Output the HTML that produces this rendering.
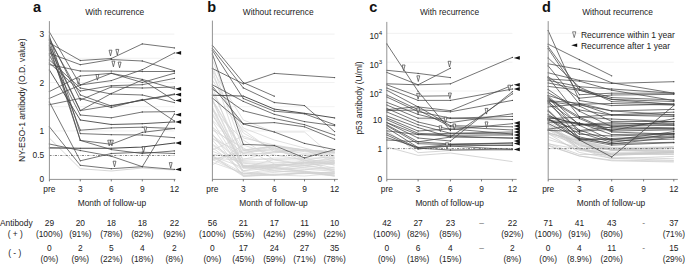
<!DOCTYPE html><html><head><meta charset="utf-8"><style>html,body{margin:0;padding:0;background:#fff;}svg{display:block;font-family:"Liberation Sans",sans-serif;}</style></head><body>
<svg width="685" height="265" viewBox="0 0 685 265">
<line x1="49.4" y1="130.90" x2="174.4" y2="130.90" stroke="#eeeeee" stroke-width="0.8"/>
<line x1="49.4" y1="106.70" x2="174.4" y2="106.70" stroke="#eeeeee" stroke-width="0.8"/>
<line x1="49.4" y1="82.50" x2="174.4" y2="82.50" stroke="#eeeeee" stroke-width="0.8"/>
<line x1="49.4" y1="58.30" x2="174.4" y2="58.30" stroke="#eeeeee" stroke-width="0.8"/>
<line x1="49.4" y1="34.10" x2="174.4" y2="34.10" stroke="#eeeeee" stroke-width="0.8"/>
<line x1="212.4" y1="130.90" x2="334.6" y2="130.90" stroke="#eeeeee" stroke-width="0.8"/>
<line x1="212.4" y1="106.70" x2="334.6" y2="106.70" stroke="#eeeeee" stroke-width="0.8"/>
<line x1="212.4" y1="82.50" x2="334.6" y2="82.50" stroke="#eeeeee" stroke-width="0.8"/>
<line x1="212.4" y1="58.30" x2="334.6" y2="58.30" stroke="#eeeeee" stroke-width="0.8"/>
<line x1="212.4" y1="34.10" x2="334.6" y2="34.10" stroke="#eeeeee" stroke-width="0.8"/>
<line x1="386.8" y1="119.80" x2="512.4" y2="119.80" stroke="#eeeeee" stroke-width="0.8"/>
<line x1="386.8" y1="91.00" x2="512.4" y2="91.00" stroke="#eeeeee" stroke-width="0.8"/>
<line x1="386.8" y1="62.20" x2="512.4" y2="62.20" stroke="#eeeeee" stroke-width="0.8"/>
<line x1="386.8" y1="33.40" x2="512.4" y2="33.40" stroke="#eeeeee" stroke-width="0.8"/>
<line x1="548.2" y1="119.80" x2="673.8" y2="119.80" stroke="#eeeeee" stroke-width="0.8"/>
<line x1="548.2" y1="91.00" x2="673.8" y2="91.00" stroke="#eeeeee" stroke-width="0.8"/>
<line x1="548.2" y1="62.20" x2="673.8" y2="62.20" stroke="#eeeeee" stroke-width="0.8"/>
<line x1="548.2" y1="33.40" x2="673.8" y2="33.40" stroke="#eeeeee" stroke-width="0.8"/>
<polyline points="49.4,138.1 80.3,168.7 111.3,171.0 142.3,168.0 174.4,170.0" fill="none" stroke="#c8c8c8" stroke-width="0.75" stroke-opacity="1" stroke-linejoin="round"/>
<polyline points="49.4,42.9 80.3,60.5 111.3,58.5 142.3,43.9 174.4,47.9" fill="none" stroke="#474747" stroke-width="0.75" stroke-opacity="1" stroke-linejoin="round"/>
<circle cx="49.4" cy="42.9" r="0.65" fill="#474747"/>
<circle cx="80.3" cy="60.5" r="0.65" fill="#474747"/>
<circle cx="111.3" cy="58.5" r="0.65" fill="#474747"/>
<circle cx="142.3" cy="43.9" r="0.65" fill="#474747"/>
<circle cx="174.4" cy="47.9" r="0.65" fill="#474747"/>
<polyline points="49.4,53.3 80.3,64.7 111.3,59.5 142.3,61.0 174.4,70.7" fill="none" stroke="#474747" stroke-width="0.75" stroke-opacity="1" stroke-linejoin="round"/>
<circle cx="49.4" cy="53.3" r="0.65" fill="#474747"/>
<circle cx="80.3" cy="64.7" r="0.65" fill="#474747"/>
<circle cx="111.3" cy="59.5" r="0.65" fill="#474747"/>
<circle cx="142.3" cy="61.0" r="0.65" fill="#474747"/>
<circle cx="174.4" cy="70.7" r="0.65" fill="#474747"/>
<polyline points="49.4,64.6 80.3,71.0 111.3,71.1 142.3,71.5 174.4,71.5" fill="none" stroke="#474747" stroke-width="0.75" stroke-opacity="1" stroke-linejoin="round"/>
<circle cx="49.4" cy="64.6" r="0.65" fill="#474747"/>
<circle cx="80.3" cy="71.0" r="0.65" fill="#474747"/>
<circle cx="111.3" cy="71.1" r="0.65" fill="#474747"/>
<circle cx="142.3" cy="71.5" r="0.65" fill="#474747"/>
<circle cx="174.4" cy="71.5" r="0.65" fill="#474747"/>
<polyline points="49.4,32.0 80.3,85.0 111.3,80.6 142.3,69.7 174.4,52.9" fill="none" stroke="#474747" stroke-width="0.75" stroke-opacity="1" stroke-linejoin="round"/>
<circle cx="49.4" cy="32.0" r="0.65" fill="#474747"/>
<circle cx="80.3" cy="85.0" r="0.65" fill="#474747"/>
<circle cx="111.3" cy="80.6" r="0.65" fill="#474747"/>
<circle cx="142.3" cy="69.7" r="0.65" fill="#474747"/>
<circle cx="174.4" cy="52.9" r="0.65" fill="#474747"/>
<polyline points="49.4,91.5 80.3,76.0 111.3,73.3 142.3,82.5 174.4,73.2" fill="none" stroke="#474747" stroke-width="0.75" stroke-opacity="1" stroke-linejoin="round"/>
<circle cx="49.4" cy="91.5" r="0.65" fill="#474747"/>
<circle cx="80.3" cy="76.0" r="0.65" fill="#474747"/>
<circle cx="111.3" cy="73.3" r="0.65" fill="#474747"/>
<circle cx="142.3" cy="82.5" r="0.65" fill="#474747"/>
<circle cx="174.4" cy="73.2" r="0.65" fill="#474747"/>
<polyline points="49.4,98.4 80.3,85.0 111.3,73.3 142.3,79.4 174.4,88.8" fill="none" stroke="#474747" stroke-width="0.75" stroke-opacity="1" stroke-linejoin="round"/>
<circle cx="49.4" cy="98.4" r="0.65" fill="#474747"/>
<circle cx="80.3" cy="85.0" r="0.65" fill="#474747"/>
<circle cx="111.3" cy="73.3" r="0.65" fill="#474747"/>
<circle cx="142.3" cy="79.4" r="0.65" fill="#474747"/>
<circle cx="174.4" cy="88.8" r="0.65" fill="#474747"/>
<polyline points="49.4,63.0 80.3,91.0 111.3,85.7 142.3,84.7 174.4,78.4" fill="none" stroke="#474747" stroke-width="0.75" stroke-opacity="1" stroke-linejoin="round"/>
<circle cx="49.4" cy="63.0" r="0.65" fill="#474747"/>
<circle cx="80.3" cy="91.0" r="0.65" fill="#474747"/>
<circle cx="111.3" cy="85.7" r="0.65" fill="#474747"/>
<circle cx="142.3" cy="84.7" r="0.65" fill="#474747"/>
<circle cx="174.4" cy="78.4" r="0.65" fill="#474747"/>
<polyline points="49.4,45.0 80.3,110.6 111.3,93.5 142.3,80.0 174.4,100.4" fill="none" stroke="#474747" stroke-width="0.75" stroke-opacity="1" stroke-linejoin="round"/>
<circle cx="49.4" cy="45.0" r="0.65" fill="#474747"/>
<circle cx="80.3" cy="110.6" r="0.65" fill="#474747"/>
<circle cx="111.3" cy="93.5" r="0.65" fill="#474747"/>
<circle cx="142.3" cy="80.0" r="0.65" fill="#474747"/>
<circle cx="174.4" cy="100.4" r="0.65" fill="#474747"/>
<polyline points="49.4,48.0 80.3,110.6 111.3,105.5 142.3,100.4 174.4,94.6" fill="none" stroke="#474747" stroke-width="0.75" stroke-opacity="1" stroke-linejoin="round"/>
<circle cx="49.4" cy="48.0" r="0.65" fill="#474747"/>
<circle cx="80.3" cy="110.6" r="0.65" fill="#474747"/>
<circle cx="111.3" cy="105.5" r="0.65" fill="#474747"/>
<circle cx="142.3" cy="100.4" r="0.65" fill="#474747"/>
<circle cx="174.4" cy="94.6" r="0.65" fill="#474747"/>
<polyline points="49.4,104.7 80.3,98.4 111.3,107.5 142.3,99.4 174.4,121.0" fill="none" stroke="#474747" stroke-width="0.75" stroke-opacity="1" stroke-linejoin="round"/>
<circle cx="49.4" cy="104.7" r="0.65" fill="#474747"/>
<circle cx="80.3" cy="98.4" r="0.65" fill="#474747"/>
<circle cx="111.3" cy="107.5" r="0.65" fill="#474747"/>
<circle cx="142.3" cy="99.4" r="0.65" fill="#474747"/>
<circle cx="174.4" cy="121.0" r="0.65" fill="#474747"/>
<polyline points="49.4,40.0 80.3,95.0 111.3,106.0 142.3,100.0 174.4,94.0" fill="none" stroke="#474747" stroke-width="0.75" stroke-opacity="1" stroke-linejoin="round"/>
<circle cx="49.4" cy="40.0" r="0.65" fill="#474747"/>
<circle cx="80.3" cy="95.0" r="0.65" fill="#474747"/>
<circle cx="111.3" cy="106.0" r="0.65" fill="#474747"/>
<circle cx="142.3" cy="100.0" r="0.65" fill="#474747"/>
<circle cx="174.4" cy="94.0" r="0.65" fill="#474747"/>
<polyline points="49.4,38.0 80.3,100.0 111.3,87.0 142.3,88.0 174.4,87.0" fill="none" stroke="#474747" stroke-width="0.75" stroke-opacity="1" stroke-linejoin="round"/>
<circle cx="49.4" cy="38.0" r="0.65" fill="#474747"/>
<circle cx="80.3" cy="100.0" r="0.65" fill="#474747"/>
<circle cx="111.3" cy="87.0" r="0.65" fill="#474747"/>
<circle cx="142.3" cy="88.0" r="0.65" fill="#474747"/>
<circle cx="174.4" cy="87.0" r="0.65" fill="#474747"/>
<polyline points="49.4,55.0 80.3,115.0 111.3,117.8 142.3,112.0 174.4,111.6" fill="none" stroke="#474747" stroke-width="0.75" stroke-opacity="1" stroke-linejoin="round"/>
<circle cx="49.4" cy="55.0" r="0.65" fill="#474747"/>
<circle cx="80.3" cy="115.0" r="0.65" fill="#474747"/>
<circle cx="111.3" cy="117.8" r="0.65" fill="#474747"/>
<circle cx="142.3" cy="112.0" r="0.65" fill="#474747"/>
<circle cx="174.4" cy="111.6" r="0.65" fill="#474747"/>
<polyline points="49.4,60.0 80.3,88.0 111.3,94.0 142.3,95.0 174.4,102.6" fill="none" stroke="#474747" stroke-width="0.75" stroke-opacity="1" stroke-linejoin="round"/>
<circle cx="49.4" cy="60.0" r="0.65" fill="#474747"/>
<circle cx="80.3" cy="88.0" r="0.65" fill="#474747"/>
<circle cx="111.3" cy="94.0" r="0.65" fill="#474747"/>
<circle cx="142.3" cy="95.0" r="0.65" fill="#474747"/>
<circle cx="174.4" cy="102.6" r="0.65" fill="#474747"/>
<polyline points="49.4,70.0 80.3,120.0 111.3,124.5 142.3,123.7 174.4,121.9" fill="none" stroke="#474747" stroke-width="0.9" stroke-opacity="1" stroke-linejoin="round"/>
<circle cx="49.4" cy="70.0" r="0.65" fill="#474747"/>
<circle cx="80.3" cy="120.0" r="0.65" fill="#474747"/>
<circle cx="111.3" cy="124.5" r="0.65" fill="#474747"/>
<circle cx="142.3" cy="123.7" r="0.65" fill="#474747"/>
<circle cx="174.4" cy="121.9" r="0.65" fill="#474747"/>
<polyline points="49.4,50.0 80.3,130.2 111.3,127.9 142.3,127.2 174.4,128.5" fill="none" stroke="#474747" stroke-width="0.75" stroke-opacity="1" stroke-linejoin="round"/>
<circle cx="49.4" cy="50.0" r="0.65" fill="#474747"/>
<circle cx="80.3" cy="130.2" r="0.65" fill="#474747"/>
<circle cx="111.3" cy="127.9" r="0.65" fill="#474747"/>
<circle cx="142.3" cy="127.2" r="0.65" fill="#474747"/>
<circle cx="174.4" cy="128.5" r="0.65" fill="#474747"/>
<polyline points="49.4,36.0 80.3,133.6 111.3,134.7 142.3,135.0 174.4,137.7" fill="none" stroke="#474747" stroke-width="0.75" stroke-opacity="1" stroke-linejoin="round"/>
<circle cx="49.4" cy="36.0" r="0.65" fill="#474747"/>
<circle cx="80.3" cy="133.6" r="0.65" fill="#474747"/>
<circle cx="111.3" cy="134.7" r="0.65" fill="#474747"/>
<circle cx="142.3" cy="135.0" r="0.65" fill="#474747"/>
<circle cx="174.4" cy="137.7" r="0.65" fill="#474747"/>
<polyline points="49.4,40.0 80.3,140.4 111.3,144.3 142.3,132.4 174.4,128.5" fill="none" stroke="#474747" stroke-width="0.75" stroke-opacity="1" stroke-linejoin="round"/>
<circle cx="49.4" cy="40.0" r="0.65" fill="#474747"/>
<circle cx="80.3" cy="140.4" r="0.65" fill="#474747"/>
<circle cx="111.3" cy="144.3" r="0.65" fill="#474747"/>
<circle cx="142.3" cy="132.4" r="0.65" fill="#474747"/>
<circle cx="174.4" cy="128.5" r="0.65" fill="#474747"/>
<polyline points="49.4,46.0 80.3,140.4 111.3,149.6 142.3,153.5 174.4,150.9" fill="none" stroke="#474747" stroke-width="0.75" stroke-opacity="1" stroke-linejoin="round"/>
<circle cx="49.4" cy="46.0" r="0.65" fill="#474747"/>
<circle cx="80.3" cy="140.4" r="0.65" fill="#474747"/>
<circle cx="111.3" cy="149.6" r="0.65" fill="#474747"/>
<circle cx="142.3" cy="153.5" r="0.65" fill="#474747"/>
<circle cx="174.4" cy="150.9" r="0.65" fill="#474747"/>
<polyline points="49.4,147.9 80.3,148.3 111.3,148.3 142.3,147.0 174.4,143.0" fill="none" stroke="#474747" stroke-width="1.1" stroke-opacity="1" stroke-linejoin="round"/>
<circle cx="49.4" cy="147.9" r="0.65" fill="#474747"/>
<circle cx="80.3" cy="148.3" r="0.65" fill="#474747"/>
<circle cx="111.3" cy="148.3" r="0.65" fill="#474747"/>
<circle cx="142.3" cy="147.0" r="0.65" fill="#474747"/>
<circle cx="174.4" cy="143.0" r="0.65" fill="#474747"/>
<polyline points="49.4,144.0 80.3,150.5 111.3,156.2 142.3,166.7 174.4,114.0" fill="none" stroke="#474747" stroke-width="0.75" stroke-opacity="1" stroke-linejoin="round"/>
<circle cx="49.4" cy="144.0" r="0.65" fill="#474747"/>
<circle cx="80.3" cy="150.5" r="0.65" fill="#474747"/>
<circle cx="111.3" cy="156.2" r="0.65" fill="#474747"/>
<circle cx="142.3" cy="166.7" r="0.65" fill="#474747"/>
<circle cx="174.4" cy="114.0" r="0.65" fill="#474747"/>
<polyline points="49.4,126.8 80.3,165.3 111.3,168.7 142.3,166.7 174.4,169.4" fill="none" stroke="#474747" stroke-width="0.75" stroke-opacity="1" stroke-linejoin="round"/>
<circle cx="49.4" cy="126.8" r="0.65" fill="#474747"/>
<circle cx="80.3" cy="165.3" r="0.65" fill="#474747"/>
<circle cx="111.3" cy="168.7" r="0.65" fill="#474747"/>
<circle cx="142.3" cy="166.7" r="0.65" fill="#474747"/>
<circle cx="174.4" cy="169.4" r="0.65" fill="#474747"/>
<polyline points="49.4,102.0 80.3,160.8 111.3,153.5 142.3,152.2 174.4,153.5" fill="none" stroke="#474747" stroke-width="0.75" stroke-opacity="1" stroke-linejoin="round"/>
<circle cx="49.4" cy="102.0" r="0.65" fill="#474747"/>
<circle cx="80.3" cy="160.8" r="0.65" fill="#474747"/>
<circle cx="111.3" cy="153.5" r="0.65" fill="#474747"/>
<circle cx="142.3" cy="152.2" r="0.65" fill="#474747"/>
<circle cx="174.4" cy="153.5" r="0.65" fill="#474747"/>
<path d="M109.05,50.20 L111.95,50.20 L110.50,55.90 Z" fill="#fff" stroke="#333" stroke-width="0.65"/>
<path d="M115.85,49.40 L118.75,49.40 L117.30,55.10 Z" fill="#fff" stroke="#333" stroke-width="0.65"/>
<path d="M111.95,61.10 L114.85,61.10 L113.40,66.80 Z" fill="#fff" stroke="#333" stroke-width="0.65"/>
<path d="M118.15,62.10 L121.05,62.10 L119.60,67.80 Z" fill="#fff" stroke="#333" stroke-width="0.65"/>
<path d="M107.75,140.20 L110.65,140.20 L109.20,145.90 Z" fill="#fff" stroke="#333" stroke-width="0.65"/>
<path d="M110.45,140.20 L113.35,140.20 L111.90,145.90 Z" fill="#fff" stroke="#333" stroke-width="0.65"/>
<path d="M113.05,161.20 L115.95,161.20 L114.50,166.90 Z" fill="#fff" stroke="#333" stroke-width="0.65"/>
<path d="M95.95,74.50 L98.85,74.50 L97.40,80.20 Z" fill="#fff" stroke="#333" stroke-width="0.65"/>
<path d="M76.75,78.80 L79.65,78.80 L78.20,84.50 Z" fill="#fff" stroke="#333" stroke-width="0.65"/>
<path d="M143.95,127.00 L146.85,127.00 L145.40,132.70 Z" fill="#fff" stroke="#333" stroke-width="0.65"/>
<path d="M142.05,146.80 L144.95,146.80 L143.50,152.50 Z" fill="#fff" stroke="#333" stroke-width="0.65"/>
<path d="M169.25,162.60 L172.15,162.60 L170.70,168.30 Z" fill="#fff" stroke="#333" stroke-width="0.65"/>
<path d="M175.1,52.9 L181.1,51.0 L181.1,54.8 Z" fill="#111"/>
<path d="M175.1,88.8 L181.1,86.9 L181.1,90.7 Z" fill="#111"/>
<path d="M175.1,94.6 L181.1,92.7 L181.1,96.5 Z" fill="#111"/>
<path d="M175.1,100.4 L181.1,98.5 L181.1,102.3 Z" fill="#111"/>
<path d="M175.1,114.7 L181.1,112.8 L181.1,116.6 Z" fill="#111"/>
<path d="M175.1,121.9 L181.1,120.0 L181.1,123.8 Z" fill="#111"/>
<path d="M175.1,143.0 L181.1,141.1 L181.1,144.9 Z" fill="#111"/>
<path d="M175.1,169.4 L181.1,167.5 L181.1,171.3 Z" fill="#111"/>
<polyline points="212.4,137.3 243.3,165.4 274.3,170.2 304.5,167.5 334.6,163.4" fill="none" stroke="#d2d2d2" stroke-width="0.7" stroke-opacity="1" stroke-linejoin="round"/>
<polyline points="212.4,108.0 243.3,166.7 274.3,166.9 304.5,162.6 334.6,163.4" fill="none" stroke="#d2d2d2" stroke-width="0.7" stroke-opacity="1" stroke-linejoin="round"/>
<polyline points="212.4,138.9 243.3,153.1 274.3,149.4 304.5,153.4 334.6,152.0" fill="none" stroke="#d2d2d2" stroke-width="0.7" stroke-opacity="1" stroke-linejoin="round"/>
<polyline points="212.4,87.0 243.3,166.4 274.3,165.4 304.5,166.2 334.6,169.0" fill="none" stroke="#d2d2d2" stroke-width="0.7" stroke-opacity="1" stroke-linejoin="round"/>
<polyline points="212.4,159.3 243.3,152.2 274.3,148.4 304.5,150.0 334.6,152.0" fill="none" stroke="#d2d2d2" stroke-width="0.7" stroke-opacity="1" stroke-linejoin="round"/>
<polyline points="212.4,99.8 243.3,154.0 274.3,152.9 304.5,150.0 334.6,152.0" fill="none" stroke="#d2d2d2" stroke-width="0.7" stroke-opacity="1" stroke-linejoin="round"/>
<polyline points="212.4,151.3 243.3,163.2 274.3,166.3 304.5,162.1 334.6,158.0" fill="none" stroke="#d2d2d2" stroke-width="0.7" stroke-opacity="1" stroke-linejoin="round"/>
<polyline points="212.4,133.9 243.3,176.3 274.3,175.0 304.5,173.1 334.6,172.0" fill="none" stroke="#d2d2d2" stroke-width="0.7" stroke-opacity="1" stroke-linejoin="round"/>
<polyline points="212.4,91.8 243.3,155.8 274.3,151.8 304.5,154.9 334.6,153.9" fill="none" stroke="#d2d2d2" stroke-width="0.7" stroke-opacity="1" stroke-linejoin="round"/>
<polyline points="212.4,127.2 243.3,171.7 274.3,175.0 304.5,173.1 334.6,172.2" fill="none" stroke="#d2d2d2" stroke-width="0.7" stroke-opacity="1" stroke-linejoin="round"/>
<polyline points="212.4,156.3 243.3,167.5 274.3,159.6 304.5,163.8 334.6,160.6" fill="none" stroke="#d2d2d2" stroke-width="0.7" stroke-opacity="1" stroke-linejoin="round"/>
<polyline points="212.4,100.9 243.3,168.3 274.3,167.5 304.5,169.3 334.6,171.1" fill="none" stroke="#d2d2d2" stroke-width="0.7" stroke-opacity="1" stroke-linejoin="round"/>
<polyline points="212.4,158.1 243.3,160.5 274.3,158.1 304.5,158.4 334.6,157.4" fill="none" stroke="#d2d2d2" stroke-width="0.7" stroke-opacity="1" stroke-linejoin="round"/>
<polyline points="212.4,65.5 243.3,150.0 274.3,146.0 304.5,150.0 334.6,152.0" fill="none" stroke="#d2d2d2" stroke-width="0.7" stroke-opacity="1" stroke-linejoin="round"/>
<polyline points="212.4,134.9 243.3,166.0 274.3,164.6 304.5,160.9 334.6,160.7" fill="none" stroke="#d2d2d2" stroke-width="0.7" stroke-opacity="1" stroke-linejoin="round"/>
<polyline points="212.4,115.3 243.3,162.7 274.3,164.4 304.5,165.1 334.6,162.1" fill="none" stroke="#d2d2d2" stroke-width="0.7" stroke-opacity="1" stroke-linejoin="round"/>
<polyline points="212.4,139.9 243.3,175.9 274.3,175.0 304.5,176.0 334.6,173.6" fill="none" stroke="#d2d2d2" stroke-width="0.7" stroke-opacity="1" stroke-linejoin="round"/>
<polyline points="212.4,145.2 243.3,166.9 274.3,167.5 304.5,171.1 334.6,173.7" fill="none" stroke="#d2d2d2" stroke-width="0.7" stroke-opacity="1" stroke-linejoin="round"/>
<polyline points="212.4,154.2 243.3,159.4 274.3,151.8 304.5,150.0 334.6,152.0" fill="none" stroke="#d2d2d2" stroke-width="0.7" stroke-opacity="1" stroke-linejoin="round"/>
<polyline points="212.4,157.2 243.3,175.3 274.3,172.4 304.5,169.8 334.6,167.1" fill="none" stroke="#d2d2d2" stroke-width="0.7" stroke-opacity="1" stroke-linejoin="round"/>
<polyline points="212.4,159.5 243.3,174.1 274.3,170.9 304.5,173.0 334.6,176.0" fill="none" stroke="#d2d2d2" stroke-width="0.7" stroke-opacity="1" stroke-linejoin="round"/>
<polyline points="212.4,121.0 243.3,170.9 274.3,167.6 304.5,171.4 334.6,176.0" fill="none" stroke="#d2d2d2" stroke-width="0.7" stroke-opacity="1" stroke-linejoin="round"/>
<polyline points="212.4,120.1 243.3,150.7 274.3,151.0 304.5,151.1 334.6,152.7" fill="none" stroke="#d2d2d2" stroke-width="0.7" stroke-opacity="1" stroke-linejoin="round"/>
<polyline points="212.4,127.0 243.3,153.5 274.3,146.0 304.5,151.7 334.6,153.2" fill="none" stroke="#d2d2d2" stroke-width="0.7" stroke-opacity="1" stroke-linejoin="round"/>
<polyline points="212.4,160.0 243.3,150.7 274.3,146.0 304.5,150.0 334.6,152.6" fill="none" stroke="#d2d2d2" stroke-width="0.7" stroke-opacity="1" stroke-linejoin="round"/>
<polyline points="212.4,113.3 243.3,167.6 274.3,171.0 304.5,171.7 334.6,174.9" fill="none" stroke="#d2d2d2" stroke-width="0.7" stroke-opacity="1" stroke-linejoin="round"/>
<polyline points="212.4,99.8 243.3,166.1 274.3,169.0 304.5,165.6 334.6,162.1" fill="none" stroke="#d2d2d2" stroke-width="0.7" stroke-opacity="1" stroke-linejoin="round"/>
<polyline points="212.4,147.5 243.3,170.8 274.3,164.3 304.5,165.4 334.6,162.9" fill="none" stroke="#d2d2d2" stroke-width="0.7" stroke-opacity="1" stroke-linejoin="round"/>
<polyline points="212.4,70.2 243.3,161.7 274.3,162.3 304.5,162.9 334.6,163.0" fill="none" stroke="#d2d2d2" stroke-width="0.7" stroke-opacity="1" stroke-linejoin="round"/>
<polyline points="212.4,162.4 243.3,173.2 274.3,175.0 304.5,172.9 334.6,173.5" fill="none" stroke="#d2d2d2" stroke-width="0.7" stroke-opacity="1" stroke-linejoin="round"/>
<polyline points="212.4,106.9 243.3,167.8 274.3,165.8 304.5,163.1 334.6,161.1" fill="none" stroke="#d2d2d2" stroke-width="0.7" stroke-opacity="1" stroke-linejoin="round"/>
<polyline points="212.4,156.1 243.3,173.4 274.3,175.0 304.5,172.4 334.6,176.0" fill="none" stroke="#d2d2d2" stroke-width="0.7" stroke-opacity="1" stroke-linejoin="round"/>
<polyline points="212.4,155.8 243.3,176.3 274.3,174.0 304.5,173.6 334.6,172.2" fill="none" stroke="#d2d2d2" stroke-width="0.7" stroke-opacity="1" stroke-linejoin="round"/>
<polyline points="212.4,135.2 243.3,158.8 274.3,159.5 304.5,160.2 334.6,155.8" fill="none" stroke="#d2d2d2" stroke-width="0.7" stroke-opacity="1" stroke-linejoin="round"/>
<polyline points="212.4,109.2 243.3,174.0 274.3,168.5 304.5,171.9 334.6,175.1" fill="none" stroke="#d2d2d2" stroke-width="0.7" stroke-opacity="1" stroke-linejoin="round"/>
<polyline points="212.4,144.1 243.3,165.1 274.3,166.9 304.5,162.9 334.6,158.5" fill="none" stroke="#d2d2d2" stroke-width="0.7" stroke-opacity="1" stroke-linejoin="round"/>
<polyline points="212.4,75.0 243.3,133.0 274.3,150.0 304.5,158.0 334.6,165.0" fill="none" stroke="#d2d2d2" stroke-width="0.7" stroke-opacity="1" stroke-linejoin="round"/>
<polyline points="212.4,110.0 243.3,140.0 274.3,160.0 304.5,165.0 334.6,170.0" fill="none" stroke="#d2d2d2" stroke-width="0.7" stroke-opacity="1" stroke-linejoin="round"/>
<polyline points="212.4,150.0 243.3,136.0 274.3,148.0 304.5,162.0 334.6,168.0" fill="none" stroke="#d2d2d2" stroke-width="0.7" stroke-opacity="1" stroke-linejoin="round"/>
<polyline points="212.4,165.0 243.3,145.0 274.3,155.0 304.5,160.0 334.6,172.0" fill="none" stroke="#d2d2d2" stroke-width="0.7" stroke-opacity="1" stroke-linejoin="round"/>
<polyline points="212.4,95.0 243.3,130.0 274.3,152.0 304.5,150.0 334.6,162.0" fill="none" stroke="#d2d2d2" stroke-width="0.7" stroke-opacity="1" stroke-linejoin="round"/>
<polyline points="212.4,130.0 243.3,148.0 274.3,164.0 304.5,168.0 334.6,170.0" fill="none" stroke="#d2d2d2" stroke-width="0.7" stroke-opacity="1" stroke-linejoin="round"/>
<polyline points="212.4,70.0 243.3,120.0 274.3,132.0 304.5,132.0 334.6,158.0" fill="none" stroke="#d2d2d2" stroke-width="0.7" stroke-opacity="1" stroke-linejoin="round"/>
<polyline points="212.4,60.0 243.3,138.0 274.3,145.0 304.5,150.0 334.6,160.0" fill="none" stroke="#d2d2d2" stroke-width="0.7" stroke-opacity="1" stroke-linejoin="round"/>
<polyline points="212.4,100.0 243.3,150.0 274.3,147.0 304.5,160.0 334.6,165.0" fill="none" stroke="#d2d2d2" stroke-width="0.7" stroke-opacity="1" stroke-linejoin="round"/>
<polyline points="212.4,80.0 243.3,128.0 274.3,140.0 304.5,148.0 334.6,156.0" fill="none" stroke="#d2d2d2" stroke-width="0.7" stroke-opacity="1" stroke-linejoin="round"/>
<polyline points="212.4,68.5 243.3,83.8 274.3,73.4 334.6,77.6" fill="none" stroke="#474747" stroke-width="0.75" stroke-opacity="1" stroke-linejoin="round"/>
<circle cx="212.4" cy="68.5" r="0.65" fill="#474747"/>
<circle cx="243.3" cy="83.8" r="0.65" fill="#474747"/>
<circle cx="274.3" cy="73.4" r="0.65" fill="#474747"/>
<circle cx="334.6" cy="77.6" r="0.65" fill="#474747"/>
<polyline points="212.4,45.3 243.3,82.6 274.3,96.2" fill="none" stroke="#474747" stroke-width="0.75" stroke-opacity="1" stroke-linejoin="round"/>
<circle cx="212.4" cy="45.3" r="0.65" fill="#474747"/>
<circle cx="243.3" cy="82.6" r="0.65" fill="#474747"/>
<circle cx="274.3" cy="96.2" r="0.65" fill="#474747"/>
<polyline points="212.4,48.4 243.3,87.9 274.3,102.5 304.5,105.6 334.6,131.6" fill="none" stroke="#474747" stroke-width="0.75" stroke-opacity="1" stroke-linejoin="round"/>
<circle cx="212.4" cy="48.4" r="0.65" fill="#474747"/>
<circle cx="243.3" cy="87.9" r="0.65" fill="#474747"/>
<circle cx="274.3" cy="102.5" r="0.65" fill="#474747"/>
<circle cx="304.5" cy="105.6" r="0.65" fill="#474747"/>
<circle cx="334.6" cy="131.6" r="0.65" fill="#474747"/>
<polyline points="212.4,95.2 243.3,96.1 274.3,109.1 304.5,113.3 334.6,117.9" fill="none" stroke="#474747" stroke-width="0.95" stroke-opacity="1" stroke-linejoin="round"/>
<circle cx="212.4" cy="95.2" r="0.65" fill="#474747"/>
<circle cx="243.3" cy="96.1" r="0.65" fill="#474747"/>
<circle cx="274.3" cy="109.1" r="0.65" fill="#474747"/>
<circle cx="304.5" cy="113.3" r="0.65" fill="#474747"/>
<circle cx="334.6" cy="117.9" r="0.65" fill="#474747"/>
<polyline points="212.4,50.4 243.3,98.5 274.3,111.2 304.5,113.8 334.6,124.7" fill="none" stroke="#474747" stroke-width="0.75" stroke-opacity="1" stroke-linejoin="round"/>
<circle cx="212.4" cy="50.4" r="0.65" fill="#474747"/>
<circle cx="243.3" cy="98.5" r="0.65" fill="#474747"/>
<circle cx="274.3" cy="111.2" r="0.65" fill="#474747"/>
<circle cx="304.5" cy="113.8" r="0.65" fill="#474747"/>
<circle cx="334.6" cy="124.7" r="0.65" fill="#474747"/>
<polyline points="212.4,84.8 243.3,101.4 274.3,114.3 304.5,121.6 334.6,125.7" fill="none" stroke="#474747" stroke-width="0.75" stroke-opacity="1" stroke-linejoin="round"/>
<circle cx="212.4" cy="84.8" r="0.65" fill="#474747"/>
<circle cx="243.3" cy="101.4" r="0.65" fill="#474747"/>
<circle cx="274.3" cy="114.3" r="0.65" fill="#474747"/>
<circle cx="304.5" cy="121.6" r="0.65" fill="#474747"/>
<circle cx="334.6" cy="125.7" r="0.65" fill="#474747"/>
<polyline points="212.4,89.0 243.3,110.8 274.3,118.5 304.5,124.7 334.6,135.1" fill="none" stroke="#474747" stroke-width="0.75" stroke-opacity="1" stroke-linejoin="round"/>
<circle cx="212.4" cy="89.0" r="0.65" fill="#474747"/>
<circle cx="243.3" cy="110.8" r="0.65" fill="#474747"/>
<circle cx="274.3" cy="118.5" r="0.65" fill="#474747"/>
<circle cx="304.5" cy="124.7" r="0.65" fill="#474747"/>
<circle cx="334.6" cy="135.1" r="0.65" fill="#474747"/>
<polyline points="212.4,86.3 243.3,123.7 274.3,122.6 304.5,126.8 334.6,139.2" fill="none" stroke="#474747" stroke-width="0.75" stroke-opacity="1" stroke-linejoin="round"/>
<circle cx="212.4" cy="86.3" r="0.65" fill="#474747"/>
<circle cx="243.3" cy="123.7" r="0.65" fill="#474747"/>
<circle cx="274.3" cy="122.6" r="0.65" fill="#474747"/>
<circle cx="304.5" cy="126.8" r="0.65" fill="#474747"/>
<circle cx="334.6" cy="139.2" r="0.65" fill="#474747"/>
<polyline points="212.4,98.0 243.3,124.0 274.3,132.0 304.5,143.4 334.6,149.6" fill="none" stroke="#474747" stroke-width="0.75" stroke-opacity="1" stroke-linejoin="round"/>
<circle cx="212.4" cy="98.0" r="0.65" fill="#474747"/>
<circle cx="243.3" cy="124.0" r="0.65" fill="#474747"/>
<circle cx="274.3" cy="132.0" r="0.65" fill="#474747"/>
<circle cx="304.5" cy="143.4" r="0.65" fill="#474747"/>
<circle cx="334.6" cy="149.6" r="0.65" fill="#474747"/>
<polyline points="212.4,54.0 243.3,144.4 274.3,145.5 304.5,157.9 334.6,149.6" fill="none" stroke="#474747" stroke-width="0.75" stroke-opacity="1" stroke-linejoin="round"/>
<circle cx="212.4" cy="54.0" r="0.65" fill="#474747"/>
<circle cx="243.3" cy="144.4" r="0.65" fill="#474747"/>
<circle cx="274.3" cy="145.5" r="0.65" fill="#474747"/>
<circle cx="304.5" cy="157.9" r="0.65" fill="#474747"/>
<circle cx="334.6" cy="149.6" r="0.65" fill="#474747"/>
<polyline points="386.8,130.8 418.1,152.7 450.4,150.5 512.4,150.5" fill="none" stroke="#c8c8c8" stroke-width="0.75" stroke-opacity="1" stroke-linejoin="round"/>
<polyline points="386.8,147.0 418.1,155.4 450.4,153.0 512.4,161.6" fill="none" stroke="#c8c8c8" stroke-width="0.75" stroke-opacity="1" stroke-linejoin="round"/>
<polyline points="386.8,43.9 418.1,91.3 450.4,130.5" fill="none" stroke="#474747" stroke-width="0.75" stroke-opacity="1" stroke-linejoin="round"/>
<circle cx="386.8" cy="43.9" r="0.65" fill="#474747"/>
<circle cx="418.1" cy="91.3" r="0.65" fill="#474747"/>
<circle cx="450.4" cy="130.5" r="0.65" fill="#474747"/>
<polyline points="386.8,70.3 418.1,73.4 450.4,77.6" fill="none" stroke="#474747" stroke-width="0.75" stroke-opacity="1" stroke-linejoin="round"/>
<circle cx="386.8" cy="70.3" r="0.65" fill="#474747"/>
<circle cx="418.1" cy="73.4" r="0.65" fill="#474747"/>
<circle cx="450.4" cy="77.6" r="0.65" fill="#474747"/>
<polyline points="386.8,72.4 418.1,84.8 450.4,68.2" fill="none" stroke="#474747" stroke-width="0.75" stroke-opacity="1" stroke-linejoin="round"/>
<circle cx="386.8" cy="72.4" r="0.65" fill="#474747"/>
<circle cx="418.1" cy="84.8" r="0.65" fill="#474747"/>
<circle cx="450.4" cy="68.2" r="0.65" fill="#474747"/>
<polyline points="386.8,83.8 418.1,84.8 450.4,83.8 512.4,57.4" fill="none" stroke="#474747" stroke-width="0.75" stroke-opacity="1" stroke-linejoin="round"/>
<circle cx="386.8" cy="83.8" r="0.65" fill="#474747"/>
<circle cx="418.1" cy="84.8" r="0.65" fill="#474747"/>
<circle cx="450.4" cy="83.8" r="0.65" fill="#474747"/>
<circle cx="512.4" cy="57.4" r="0.65" fill="#474747"/>
<polyline points="386.8,84.8 418.1,96.2 450.4,95.8" fill="none" stroke="#474747" stroke-width="0.75" stroke-opacity="1" stroke-linejoin="round"/>
<circle cx="386.8" cy="84.8" r="0.65" fill="#474747"/>
<circle cx="418.1" cy="96.2" r="0.65" fill="#474747"/>
<circle cx="450.4" cy="95.8" r="0.65" fill="#474747"/>
<polyline points="386.8,88.0 418.1,100.4 450.4,100.4 512.4,89.0" fill="none" stroke="#474747" stroke-width="0.75" stroke-opacity="1" stroke-linejoin="round"/>
<circle cx="386.8" cy="88.0" r="0.65" fill="#474747"/>
<circle cx="418.1" cy="100.4" r="0.65" fill="#474747"/>
<circle cx="450.4" cy="100.4" r="0.65" fill="#474747"/>
<circle cx="512.4" cy="89.0" r="0.65" fill="#474747"/>
<polyline points="386.8,90.3 418.1,106.9 450.4,110.7 512.4,85.2" fill="none" stroke="#474747" stroke-width="0.75" stroke-opacity="1" stroke-linejoin="round"/>
<circle cx="386.8" cy="90.3" r="0.65" fill="#474747"/>
<circle cx="418.1" cy="106.9" r="0.65" fill="#474747"/>
<circle cx="450.4" cy="110.7" r="0.65" fill="#474747"/>
<circle cx="512.4" cy="85.2" r="0.65" fill="#474747"/>
<polyline points="386.8,95.0 418.1,109.7 450.4,111.8 512.4,100.4" fill="none" stroke="#474747" stroke-width="0.75" stroke-opacity="1" stroke-linejoin="round"/>
<circle cx="386.8" cy="95.0" r="0.65" fill="#474747"/>
<circle cx="418.1" cy="109.7" r="0.65" fill="#474747"/>
<circle cx="450.4" cy="111.8" r="0.65" fill="#474747"/>
<circle cx="512.4" cy="100.4" r="0.65" fill="#474747"/>
<polyline points="386.8,97.0 418.1,111.6 450.4,118.2 512.4,116.4" fill="none" stroke="#474747" stroke-width="0.75" stroke-opacity="1" stroke-linejoin="round"/>
<circle cx="386.8" cy="97.0" r="0.65" fill="#474747"/>
<circle cx="418.1" cy="111.6" r="0.65" fill="#474747"/>
<circle cx="450.4" cy="118.2" r="0.65" fill="#474747"/>
<circle cx="512.4" cy="116.4" r="0.65" fill="#474747"/>
<polyline points="386.8,102.3 418.1,114.4 450.4,122.6 512.4,113.8" fill="none" stroke="#474747" stroke-width="0.75" stroke-opacity="1" stroke-linejoin="round"/>
<circle cx="386.8" cy="102.3" r="0.65" fill="#474747"/>
<circle cx="418.1" cy="114.4" r="0.65" fill="#474747"/>
<circle cx="450.4" cy="122.6" r="0.65" fill="#474747"/>
<circle cx="512.4" cy="113.8" r="0.65" fill="#474747"/>
<polyline points="386.8,105.0 418.1,118.2 450.4,118.2 512.4,119.5" fill="none" stroke="#474747" stroke-width="0.75" stroke-opacity="1" stroke-linejoin="round"/>
<circle cx="386.8" cy="105.0" r="0.65" fill="#474747"/>
<circle cx="418.1" cy="118.2" r="0.65" fill="#474747"/>
<circle cx="450.4" cy="118.2" r="0.65" fill="#474747"/>
<circle cx="512.4" cy="119.5" r="0.65" fill="#474747"/>
<polyline points="386.8,108.4 418.1,122.0 450.4,129.5 512.4,123.7" fill="none" stroke="#474747" stroke-width="0.75" stroke-opacity="1" stroke-linejoin="round"/>
<circle cx="386.8" cy="108.4" r="0.65" fill="#474747"/>
<circle cx="418.1" cy="122.0" r="0.65" fill="#474747"/>
<circle cx="450.4" cy="129.5" r="0.65" fill="#474747"/>
<circle cx="512.4" cy="123.7" r="0.65" fill="#474747"/>
<polyline points="386.8,109.7 418.1,106.6 450.4,125.7 512.4,126.8" fill="none" stroke="#474747" stroke-width="0.75" stroke-opacity="1" stroke-linejoin="round"/>
<circle cx="386.8" cy="109.7" r="0.65" fill="#474747"/>
<circle cx="418.1" cy="106.6" r="0.65" fill="#474747"/>
<circle cx="450.4" cy="125.7" r="0.65" fill="#474747"/>
<circle cx="512.4" cy="126.8" r="0.65" fill="#474747"/>
<polyline points="386.8,110.6 418.1,110.0 450.4,126.7 512.4,130.0" fill="none" stroke="#474747" stroke-width="0.75" stroke-opacity="1" stroke-linejoin="round"/>
<circle cx="386.8" cy="110.6" r="0.65" fill="#474747"/>
<circle cx="418.1" cy="110.0" r="0.65" fill="#474747"/>
<circle cx="450.4" cy="126.7" r="0.65" fill="#474747"/>
<circle cx="512.4" cy="130.0" r="0.65" fill="#474747"/>
<polyline points="386.8,112.0 418.1,124.8 450.4,133.3 512.4,132.0" fill="none" stroke="#474747" stroke-width="0.75" stroke-opacity="1" stroke-linejoin="round"/>
<circle cx="386.8" cy="112.0" r="0.65" fill="#474747"/>
<circle cx="418.1" cy="124.8" r="0.65" fill="#474747"/>
<circle cx="450.4" cy="133.3" r="0.65" fill="#474747"/>
<circle cx="512.4" cy="132.0" r="0.65" fill="#474747"/>
<polyline points="386.8,115.9 418.1,127.6 450.4,137.1 512.4,93.8" fill="none" stroke="#474747" stroke-width="0.75" stroke-opacity="1" stroke-linejoin="round"/>
<circle cx="386.8" cy="115.9" r="0.65" fill="#474747"/>
<circle cx="418.1" cy="127.6" r="0.65" fill="#474747"/>
<circle cx="450.4" cy="137.1" r="0.65" fill="#474747"/>
<circle cx="512.4" cy="93.8" r="0.65" fill="#474747"/>
<polyline points="386.8,118.0 418.1,131.0 450.4,128.9 512.4,134.0" fill="none" stroke="#474747" stroke-width="0.75" stroke-opacity="1" stroke-linejoin="round"/>
<circle cx="386.8" cy="118.0" r="0.65" fill="#474747"/>
<circle cx="418.1" cy="131.0" r="0.65" fill="#474747"/>
<circle cx="450.4" cy="128.9" r="0.65" fill="#474747"/>
<circle cx="512.4" cy="134.0" r="0.65" fill="#474747"/>
<polyline points="386.8,119.7 418.1,133.3 450.4,135.2 512.4,135.0" fill="none" stroke="#474747" stroke-width="0.75" stroke-opacity="1" stroke-linejoin="round"/>
<circle cx="386.8" cy="119.7" r="0.65" fill="#474747"/>
<circle cx="418.1" cy="133.3" r="0.65" fill="#474747"/>
<circle cx="450.4" cy="135.2" r="0.65" fill="#474747"/>
<circle cx="512.4" cy="135.0" r="0.65" fill="#474747"/>
<polyline points="386.8,122.5 418.1,134.6 450.4,136.0 512.4,138.2" fill="none" stroke="#474747" stroke-width="0.75" stroke-opacity="1" stroke-linejoin="round"/>
<circle cx="386.8" cy="122.5" r="0.65" fill="#474747"/>
<circle cx="418.1" cy="134.6" r="0.65" fill="#474747"/>
<circle cx="450.4" cy="136.0" r="0.65" fill="#474747"/>
<circle cx="512.4" cy="138.2" r="0.65" fill="#474747"/>
<polyline points="386.8,122.7 418.1,138.0 450.4,141.0 512.4,91.7" fill="none" stroke="#474747" stroke-width="0.75" stroke-opacity="1" stroke-linejoin="round"/>
<circle cx="386.8" cy="122.7" r="0.65" fill="#474747"/>
<circle cx="418.1" cy="138.0" r="0.65" fill="#474747"/>
<circle cx="450.4" cy="141.0" r="0.65" fill="#474747"/>
<circle cx="512.4" cy="91.7" r="0.65" fill="#474747"/>
<polyline points="386.8,124.8 418.1,141.8 450.4,144.0 512.4,143.0" fill="none" stroke="#474747" stroke-width="0.75" stroke-opacity="1" stroke-linejoin="round"/>
<circle cx="386.8" cy="124.8" r="0.65" fill="#474747"/>
<circle cx="418.1" cy="141.8" r="0.65" fill="#474747"/>
<circle cx="450.4" cy="144.0" r="0.65" fill="#474747"/>
<circle cx="512.4" cy="143.0" r="0.65" fill="#474747"/>
<polyline points="386.8,125.7 418.1,143.7 450.4,144.6 512.4,145.5" fill="none" stroke="#474747" stroke-width="0.75" stroke-opacity="1" stroke-linejoin="round"/>
<circle cx="386.8" cy="125.7" r="0.65" fill="#474747"/>
<circle cx="418.1" cy="143.7" r="0.65" fill="#474747"/>
<circle cx="450.4" cy="144.6" r="0.65" fill="#474747"/>
<circle cx="512.4" cy="145.5" r="0.65" fill="#474747"/>
<polyline points="386.8,127.8 418.1,147.5 450.4,146.0 512.4,149.6" fill="none" stroke="#474747" stroke-width="0.75" stroke-opacity="1" stroke-linejoin="round"/>
<circle cx="386.8" cy="127.8" r="0.65" fill="#474747"/>
<circle cx="418.1" cy="147.5" r="0.65" fill="#474747"/>
<circle cx="450.4" cy="146.0" r="0.65" fill="#474747"/>
<circle cx="512.4" cy="149.6" r="0.65" fill="#474747"/>
<polyline points="386.8,130.8 418.1,134.6 450.4,133.3 512.4,134.0" fill="none" stroke="#474747" stroke-width="0.75" stroke-opacity="1" stroke-linejoin="round"/>
<circle cx="386.8" cy="130.8" r="0.65" fill="#474747"/>
<circle cx="418.1" cy="134.6" r="0.65" fill="#474747"/>
<circle cx="450.4" cy="133.3" r="0.65" fill="#474747"/>
<circle cx="512.4" cy="134.0" r="0.65" fill="#474747"/>
<polyline points="386.8,133.1 418.1,148.2 450.4,150.0 512.4,149.0" fill="none" stroke="#474747" stroke-width="0.75" stroke-opacity="1" stroke-linejoin="round"/>
<circle cx="386.8" cy="133.1" r="0.65" fill="#474747"/>
<circle cx="418.1" cy="148.2" r="0.65" fill="#474747"/>
<circle cx="450.4" cy="150.0" r="0.65" fill="#474747"/>
<circle cx="512.4" cy="149.0" r="0.65" fill="#474747"/>
<polyline points="386.8,135.0 418.1,149.0 450.4,146.0 512.4,145.0" fill="none" stroke="#474747" stroke-width="0.75" stroke-opacity="1" stroke-linejoin="round"/>
<circle cx="386.8" cy="135.0" r="0.65" fill="#474747"/>
<circle cx="418.1" cy="149.0" r="0.65" fill="#474747"/>
<circle cx="450.4" cy="146.0" r="0.65" fill="#474747"/>
<circle cx="512.4" cy="145.0" r="0.65" fill="#474747"/>
<polyline points="386.8,137.6 418.1,147.5 450.4,144.6 512.4,143.0" fill="none" stroke="#474747" stroke-width="0.75" stroke-opacity="1" stroke-linejoin="round"/>
<circle cx="386.8" cy="137.6" r="0.65" fill="#474747"/>
<circle cx="418.1" cy="147.5" r="0.65" fill="#474747"/>
<circle cx="450.4" cy="144.6" r="0.65" fill="#474747"/>
<circle cx="512.4" cy="143.0" r="0.65" fill="#474747"/>
<polyline points="386.8,140.0 418.1,141.8 450.4,137.1 512.4,138.0" fill="none" stroke="#474747" stroke-width="0.75" stroke-opacity="1" stroke-linejoin="round"/>
<circle cx="386.8" cy="140.0" r="0.65" fill="#474747"/>
<circle cx="418.1" cy="141.8" r="0.65" fill="#474747"/>
<circle cx="450.4" cy="137.1" r="0.65" fill="#474747"/>
<circle cx="512.4" cy="138.0" r="0.65" fill="#474747"/>
<path d="M402.15,65.00 L405.05,65.00 L403.60,70.70 Z" fill="#fff" stroke="#333" stroke-width="0.65"/>
<path d="M416.85,75.80 L419.75,75.80 L418.30,81.50 Z" fill="#fff" stroke="#333" stroke-width="0.65"/>
<path d="M416.65,93.40 L419.55,93.40 L418.10,99.10 Z" fill="#fff" stroke="#333" stroke-width="0.65"/>
<path d="M416.65,108.00 L419.55,108.00 L418.10,113.70 Z" fill="#fff" stroke="#333" stroke-width="0.65"/>
<path d="M448.05,61.30 L450.95,61.30 L449.50,67.00 Z" fill="#fff" stroke="#333" stroke-width="0.65"/>
<path d="M448.45,93.00 L451.35,93.00 L449.90,98.70 Z" fill="#fff" stroke="#333" stroke-width="0.65"/>
<path d="M485.05,108.40 L487.95,108.40 L486.50,114.10 Z" fill="#fff" stroke="#333" stroke-width="0.65"/>
<path d="M485.05,121.90 L487.95,121.90 L486.50,127.60 Z" fill="#fff" stroke="#333" stroke-width="0.65"/>
<path d="M507.85,85.20 L510.75,85.20 L509.30,90.90 Z" fill="#fff" stroke="#333" stroke-width="0.65"/>
<path d="M445.55,142.80 L448.45,142.80 L447.00,148.50 Z" fill="#fff" stroke="#333" stroke-width="0.65"/>
<path d="M452.85,124.00 L455.75,124.00 L454.30,129.70 Z" fill="#fff" stroke="#333" stroke-width="0.65"/>
<path d="M444.05,117.20 L446.95,117.20 L445.50,122.90 Z" fill="#fff" stroke="#333" stroke-width="0.65"/>
<path d="M438.95,125.80 L441.85,125.80 L440.40,131.50 Z" fill="#fff" stroke="#333" stroke-width="0.65"/>
<path d="M513.8,57.9 L519.8,56.0 L519.8,59.8 Z" fill="#111"/>
<path d="M513.8,84.8 L519.8,82.9 L519.8,86.7 Z" fill="#111"/>
<path d="M513.8,89.0 L519.8,87.1 L519.8,90.9 Z" fill="#111"/>
<path d="M513.8,123.0 L519.8,121.1 L519.8,124.9 Z" fill="#111"/>
<path d="M513.8,126.0 L519.8,124.1 L519.8,127.9 Z" fill="#111"/>
<path d="M513.8,129.0 L519.8,127.1 L519.8,130.9 Z" fill="#111"/>
<path d="M513.8,132.0 L519.8,130.1 L519.8,133.9 Z" fill="#111"/>
<path d="M513.8,135.0 L519.8,133.1 L519.8,136.9 Z" fill="#111"/>
<path d="M513.8,138.0 L519.8,136.1 L519.8,139.9 Z" fill="#111"/>
<path d="M513.8,141.0 L519.8,139.1 L519.8,142.9 Z" fill="#111"/>
<path d="M513.8,143.5 L519.8,141.6 L519.8,145.4 Z" fill="#111"/>
<path d="M513.8,149.4 L519.8,147.5 L519.8,151.3 Z" fill="#111"/>
<polyline points="548.2,129.6 579.4,143.1 611.7,149.5 673.8,151.0" fill="none" stroke="#c8c8c8" stroke-width="0.7" stroke-opacity="1" stroke-linejoin="round"/>
<polyline points="548.2,127.9 579.4,142.2 611.7,150.2 673.8,152.6" fill="none" stroke="#c8c8c8" stroke-width="0.7" stroke-opacity="1" stroke-linejoin="round"/>
<polyline points="548.2,143.4 579.4,154.5 611.7,154.6 673.8,152.5" fill="none" stroke="#c8c8c8" stroke-width="0.7" stroke-opacity="1" stroke-linejoin="round"/>
<polyline points="548.2,139.7 579.4,147.8 611.7,155.8 673.8,152.3" fill="none" stroke="#c8c8c8" stroke-width="0.7" stroke-opacity="1" stroke-linejoin="round"/>
<polyline points="548.2,121.3 579.4,140.5 611.7,150.5 673.8,147.0" fill="none" stroke="#c8c8c8" stroke-width="0.7" stroke-opacity="1" stroke-linejoin="round"/>
<polyline points="548.2,145.8 579.4,156.0 611.7,160.1 673.8,161.1" fill="none" stroke="#c8c8c8" stroke-width="0.7" stroke-opacity="1" stroke-linejoin="round"/>
<polyline points="548.2,133.8 579.4,144.9 611.7,154.5 673.8,151.4" fill="none" stroke="#c8c8c8" stroke-width="0.7" stroke-opacity="1" stroke-linejoin="round"/>
<polyline points="548.2,124.7 579.4,148.1 611.7,149.3 673.8,151.9" fill="none" stroke="#c8c8c8" stroke-width="0.7" stroke-opacity="1" stroke-linejoin="round"/>
<polyline points="548.2,136.7 579.4,150.4 611.7,153.8 673.8,154.2" fill="none" stroke="#c8c8c8" stroke-width="0.7" stroke-opacity="1" stroke-linejoin="round"/>
<polyline points="548.2,133.0 579.4,141.1 611.7,149.8 673.8,147.0" fill="none" stroke="#c8c8c8" stroke-width="0.7" stroke-opacity="1" stroke-linejoin="round"/>
<polyline points="548.2,126.3 579.4,149.0 611.7,158.7 673.8,156.4" fill="none" stroke="#c8c8c8" stroke-width="0.7" stroke-opacity="1" stroke-linejoin="round"/>
<polyline points="548.2,133.5 579.4,152.5 611.7,158.3 673.8,160.4" fill="none" stroke="#c8c8c8" stroke-width="0.7" stroke-opacity="1" stroke-linejoin="round"/>
<polyline points="548.2,133.1 579.4,140.6 611.7,148.8 673.8,148.6" fill="none" stroke="#c8c8c8" stroke-width="0.7" stroke-opacity="1" stroke-linejoin="round"/>
<polyline points="548.2,145.0 579.4,156.0 611.7,160.8 673.8,162.0" fill="none" stroke="#c8c8c8" stroke-width="0.7" stroke-opacity="1" stroke-linejoin="round"/>
<polyline points="548.2,132.3 579.4,143.8 611.7,153.8 673.8,152.9" fill="none" stroke="#c8c8c8" stroke-width="0.7" stroke-opacity="1" stroke-linejoin="round"/>
<polyline points="548.2,118.0 579.4,140.2 611.7,147.4 673.8,147.0" fill="none" stroke="#c8c8c8" stroke-width="0.7" stroke-opacity="1" stroke-linejoin="round"/>
<polyline points="548.2,129.5 579.4,148.9 611.7,154.4 673.8,154.4" fill="none" stroke="#c8c8c8" stroke-width="0.7" stroke-opacity="1" stroke-linejoin="round"/>
<polyline points="548.2,128.1 579.4,144.8 611.7,150.3 673.8,151.2" fill="none" stroke="#c8c8c8" stroke-width="0.7" stroke-opacity="1" stroke-linejoin="round"/>
<polyline points="548.2,122.8 579.4,146.2 611.7,149.7 673.8,147.1" fill="none" stroke="#c8c8c8" stroke-width="0.7" stroke-opacity="1" stroke-linejoin="round"/>
<polyline points="548.2,143.9 579.4,149.1 611.7,152.2 673.8,153.0" fill="none" stroke="#c8c8c8" stroke-width="0.7" stroke-opacity="1" stroke-linejoin="round"/>
<polyline points="548.2,129.0 579.4,140.2 611.7,148.0 673.8,150.5" fill="none" stroke="#c8c8c8" stroke-width="0.7" stroke-opacity="1" stroke-linejoin="round"/>
<polyline points="548.2,124.2 579.4,148.3 611.7,157.3 673.8,158.7" fill="none" stroke="#c8c8c8" stroke-width="0.7" stroke-opacity="1" stroke-linejoin="round"/>
<polyline points="548.2,76.7 579.4,98.2 611.7,95.0 673.8,94.4" fill="none" stroke="#3c3c3c" stroke-width="0.7" stroke-opacity="1" stroke-linejoin="round"/>
<circle cx="548.2" cy="76.7" r="0.65" fill="#3c3c3c"/>
<circle cx="579.4" cy="98.2" r="0.65" fill="#3c3c3c"/>
<circle cx="611.7" cy="95.0" r="0.65" fill="#3c3c3c"/>
<circle cx="673.8" cy="94.4" r="0.65" fill="#3c3c3c"/>
<polyline points="548.2,83.0 579.4,89.1 611.7,97.6 673.8,99.9" fill="none" stroke="#3c3c3c" stroke-width="0.7" stroke-opacity="1" stroke-linejoin="round"/>
<circle cx="548.2" cy="83.0" r="0.65" fill="#3c3c3c"/>
<circle cx="579.4" cy="89.1" r="0.65" fill="#3c3c3c"/>
<circle cx="611.7" cy="97.6" r="0.65" fill="#3c3c3c"/>
<circle cx="673.8" cy="99.9" r="0.65" fill="#3c3c3c"/>
<polyline points="548.2,58.0 579.4,87.0 611.7,101.6 673.8,103.9" fill="none" stroke="#3c3c3c" stroke-width="0.7" stroke-opacity="1" stroke-linejoin="round"/>
<circle cx="548.2" cy="58.0" r="0.65" fill="#3c3c3c"/>
<circle cx="579.4" cy="87.0" r="0.65" fill="#3c3c3c"/>
<circle cx="611.7" cy="101.6" r="0.65" fill="#3c3c3c"/>
<circle cx="673.8" cy="103.9" r="0.65" fill="#3c3c3c"/>
<polyline points="548.2,106.9 579.4,104.2 611.7,103.5 673.8,105.1" fill="none" stroke="#3c3c3c" stroke-width="0.7" stroke-opacity="1" stroke-linejoin="round"/>
<circle cx="548.2" cy="106.9" r="0.65" fill="#3c3c3c"/>
<circle cx="579.4" cy="104.2" r="0.65" fill="#3c3c3c"/>
<circle cx="611.7" cy="103.5" r="0.65" fill="#3c3c3c"/>
<circle cx="673.8" cy="105.1" r="0.65" fill="#3c3c3c"/>
<polyline points="548.2,100.6 579.4,103.3 611.7,110.9 673.8,109.4" fill="none" stroke="#3c3c3c" stroke-width="0.7" stroke-opacity="1" stroke-linejoin="round"/>
<circle cx="548.2" cy="100.6" r="0.65" fill="#3c3c3c"/>
<circle cx="579.4" cy="103.3" r="0.65" fill="#3c3c3c"/>
<circle cx="611.7" cy="110.9" r="0.65" fill="#3c3c3c"/>
<circle cx="673.8" cy="109.4" r="0.65" fill="#3c3c3c"/>
<polyline points="548.2,77.5 579.4,116.8 611.7,114.8 673.8,112.2" fill="none" stroke="#3c3c3c" stroke-width="0.7" stroke-opacity="1" stroke-linejoin="round"/>
<circle cx="548.2" cy="77.5" r="0.65" fill="#3c3c3c"/>
<circle cx="579.4" cy="116.8" r="0.65" fill="#3c3c3c"/>
<circle cx="611.7" cy="114.8" r="0.65" fill="#3c3c3c"/>
<circle cx="673.8" cy="112.2" r="0.65" fill="#3c3c3c"/>
<polyline points="548.2,65.9 579.4,104.0 611.7,115.0 673.8,116.5" fill="none" stroke="#3c3c3c" stroke-width="0.7" stroke-opacity="1" stroke-linejoin="round"/>
<circle cx="548.2" cy="65.9" r="0.65" fill="#3c3c3c"/>
<circle cx="579.4" cy="104.0" r="0.65" fill="#3c3c3c"/>
<circle cx="611.7" cy="115.0" r="0.65" fill="#3c3c3c"/>
<circle cx="673.8" cy="116.5" r="0.65" fill="#3c3c3c"/>
<polyline points="548.2,101.4 579.4,106.0 611.7,121.4 673.8,121.6" fill="none" stroke="#3c3c3c" stroke-width="0.7" stroke-opacity="1" stroke-linejoin="round"/>
<circle cx="548.2" cy="101.4" r="0.65" fill="#3c3c3c"/>
<circle cx="579.4" cy="106.0" r="0.65" fill="#3c3c3c"/>
<circle cx="611.7" cy="121.4" r="0.65" fill="#3c3c3c"/>
<circle cx="673.8" cy="121.6" r="0.65" fill="#3c3c3c"/>
<polyline points="548.2,102.3 579.4,124.3 611.7,122.7 673.8,124.7" fill="none" stroke="#3c3c3c" stroke-width="0.7" stroke-opacity="1" stroke-linejoin="round"/>
<circle cx="548.2" cy="102.3" r="0.65" fill="#3c3c3c"/>
<circle cx="579.4" cy="124.3" r="0.65" fill="#3c3c3c"/>
<circle cx="611.7" cy="122.7" r="0.65" fill="#3c3c3c"/>
<circle cx="673.8" cy="124.7" r="0.65" fill="#3c3c3c"/>
<polyline points="548.2,116.1 579.4,125.0 611.7,124.0 673.8,123.6" fill="none" stroke="#3c3c3c" stroke-width="0.7" stroke-opacity="1" stroke-linejoin="round"/>
<circle cx="548.2" cy="116.1" r="0.65" fill="#3c3c3c"/>
<circle cx="579.4" cy="125.0" r="0.65" fill="#3c3c3c"/>
<circle cx="611.7" cy="124.0" r="0.65" fill="#3c3c3c"/>
<circle cx="673.8" cy="123.6" r="0.65" fill="#3c3c3c"/>
<polyline points="548.2,129.2 579.4,124.7 611.7,125.3 673.8,125.5" fill="none" stroke="#3c3c3c" stroke-width="0.7" stroke-opacity="1" stroke-linejoin="round"/>
<circle cx="548.2" cy="129.2" r="0.65" fill="#3c3c3c"/>
<circle cx="579.4" cy="124.7" r="0.65" fill="#3c3c3c"/>
<circle cx="611.7" cy="125.3" r="0.65" fill="#3c3c3c"/>
<circle cx="673.8" cy="125.5" r="0.65" fill="#3c3c3c"/>
<polyline points="548.2,89.5 579.4,111.2 611.7,126.7 673.8,127.8" fill="none" stroke="#3c3c3c" stroke-width="0.7" stroke-opacity="1" stroke-linejoin="round"/>
<circle cx="548.2" cy="89.5" r="0.65" fill="#3c3c3c"/>
<circle cx="579.4" cy="111.2" r="0.65" fill="#3c3c3c"/>
<circle cx="611.7" cy="126.7" r="0.65" fill="#3c3c3c"/>
<circle cx="673.8" cy="127.8" r="0.65" fill="#3c3c3c"/>
<polyline points="548.2,117.1 579.4,123.7 611.7,128.0 673.8,128.9" fill="none" stroke="#3c3c3c" stroke-width="0.7" stroke-opacity="1" stroke-linejoin="round"/>
<circle cx="548.2" cy="117.1" r="0.65" fill="#3c3c3c"/>
<circle cx="579.4" cy="123.7" r="0.65" fill="#3c3c3c"/>
<circle cx="611.7" cy="128.0" r="0.65" fill="#3c3c3c"/>
<circle cx="673.8" cy="128.9" r="0.65" fill="#3c3c3c"/>
<polyline points="548.2,130.4 579.4,131.4 611.7,129.3 673.8,128.7" fill="none" stroke="#3c3c3c" stroke-width="0.7" stroke-opacity="1" stroke-linejoin="round"/>
<circle cx="548.2" cy="130.4" r="0.65" fill="#3c3c3c"/>
<circle cx="579.4" cy="131.4" r="0.65" fill="#3c3c3c"/>
<circle cx="611.7" cy="129.3" r="0.65" fill="#3c3c3c"/>
<circle cx="673.8" cy="128.7" r="0.65" fill="#3c3c3c"/>
<polyline points="548.2,122.1 579.4,123.4 611.7,130.5 673.8,118.7" fill="none" stroke="#3c3c3c" stroke-width="0.7" stroke-opacity="1" stroke-linejoin="round"/>
<circle cx="548.2" cy="122.1" r="0.65" fill="#3c3c3c"/>
<circle cx="579.4" cy="123.4" r="0.65" fill="#3c3c3c"/>
<circle cx="611.7" cy="130.5" r="0.65" fill="#3c3c3c"/>
<circle cx="673.8" cy="118.7" r="0.65" fill="#3c3c3c"/>
<polyline points="548.2,99.3 579.4,118.5 611.7,132.0 673.8,134.2" fill="none" stroke="#3c3c3c" stroke-width="0.7" stroke-opacity="1" stroke-linejoin="round"/>
<circle cx="548.2" cy="99.3" r="0.65" fill="#3c3c3c"/>
<circle cx="579.4" cy="118.5" r="0.65" fill="#3c3c3c"/>
<circle cx="611.7" cy="132.0" r="0.65" fill="#3c3c3c"/>
<circle cx="673.8" cy="134.2" r="0.65" fill="#3c3c3c"/>
<polyline points="548.2,120.5 579.4,123.0 611.7,134.6 673.8,133.5" fill="none" stroke="#3c3c3c" stroke-width="0.7" stroke-opacity="1" stroke-linejoin="round"/>
<circle cx="548.2" cy="120.5" r="0.65" fill="#3c3c3c"/>
<circle cx="579.4" cy="123.0" r="0.65" fill="#3c3c3c"/>
<circle cx="611.7" cy="134.6" r="0.65" fill="#3c3c3c"/>
<circle cx="673.8" cy="133.5" r="0.65" fill="#3c3c3c"/>
<polyline points="548.2,114.4 579.4,134.2 611.7,136.0 673.8,134.1" fill="none" stroke="#3c3c3c" stroke-width="0.7" stroke-opacity="1" stroke-linejoin="round"/>
<circle cx="548.2" cy="114.4" r="0.65" fill="#3c3c3c"/>
<circle cx="579.4" cy="134.2" r="0.65" fill="#3c3c3c"/>
<circle cx="611.7" cy="136.0" r="0.65" fill="#3c3c3c"/>
<circle cx="673.8" cy="134.1" r="0.65" fill="#3c3c3c"/>
<polyline points="548.2,110.1 579.4,140.0 611.7,138.5 673.8,135.8" fill="none" stroke="#3c3c3c" stroke-width="0.7" stroke-opacity="1" stroke-linejoin="round"/>
<circle cx="548.2" cy="110.1" r="0.65" fill="#3c3c3c"/>
<circle cx="579.4" cy="140.0" r="0.65" fill="#3c3c3c"/>
<circle cx="611.7" cy="138.5" r="0.65" fill="#3c3c3c"/>
<circle cx="673.8" cy="135.8" r="0.65" fill="#3c3c3c"/>
<polyline points="548.2,95.9 579.4,125.3 611.7,140.0 673.8,131.7" fill="none" stroke="#3c3c3c" stroke-width="0.7" stroke-opacity="1" stroke-linejoin="round"/>
<circle cx="548.2" cy="95.9" r="0.65" fill="#3c3c3c"/>
<circle cx="579.4" cy="125.3" r="0.65" fill="#3c3c3c"/>
<circle cx="611.7" cy="140.0" r="0.65" fill="#3c3c3c"/>
<circle cx="673.8" cy="131.7" r="0.65" fill="#3c3c3c"/>
<polyline points="548.2,103.7 579.4,130.1 611.7,141.0 673.8,139.1" fill="none" stroke="#3c3c3c" stroke-width="0.7" stroke-opacity="1" stroke-linejoin="round"/>
<circle cx="548.2" cy="103.7" r="0.65" fill="#3c3c3c"/>
<circle cx="579.4" cy="130.1" r="0.65" fill="#3c3c3c"/>
<circle cx="611.7" cy="141.0" r="0.65" fill="#3c3c3c"/>
<circle cx="673.8" cy="139.1" r="0.65" fill="#3c3c3c"/>
<polyline points="548.2,97.2 579.4,132.7 611.7,142.5 673.8,133.6" fill="none" stroke="#3c3c3c" stroke-width="0.7" stroke-opacity="1" stroke-linejoin="round"/>
<circle cx="548.2" cy="97.2" r="0.65" fill="#3c3c3c"/>
<circle cx="579.4" cy="132.7" r="0.65" fill="#3c3c3c"/>
<circle cx="611.7" cy="142.5" r="0.65" fill="#3c3c3c"/>
<circle cx="673.8" cy="133.6" r="0.65" fill="#3c3c3c"/>
<polyline points="548.2,100.8 579.4,138.5 611.7,143.5 673.8,142.3" fill="none" stroke="#3c3c3c" stroke-width="0.7" stroke-opacity="1" stroke-linejoin="round"/>
<circle cx="548.2" cy="100.8" r="0.65" fill="#3c3c3c"/>
<circle cx="579.4" cy="138.5" r="0.65" fill="#3c3c3c"/>
<circle cx="611.7" cy="143.5" r="0.65" fill="#3c3c3c"/>
<circle cx="673.8" cy="142.3" r="0.65" fill="#3c3c3c"/>
<polyline points="548.2,111.2 579.4,139.3 611.7,145.1 673.8,142.7" fill="none" stroke="#3c3c3c" stroke-width="0.7" stroke-opacity="1" stroke-linejoin="round"/>
<circle cx="548.2" cy="111.2" r="0.65" fill="#3c3c3c"/>
<circle cx="579.4" cy="139.3" r="0.65" fill="#3c3c3c"/>
<circle cx="611.7" cy="145.1" r="0.65" fill="#3c3c3c"/>
<circle cx="673.8" cy="142.7" r="0.65" fill="#3c3c3c"/>
<polyline points="548.2,98.3 579.4,117.0 611.7,119.0 673.8,121.8" fill="none" stroke="#3c3c3c" stroke-width="0.7" stroke-opacity="1" stroke-linejoin="round"/>
<circle cx="548.2" cy="98.3" r="0.65" fill="#3c3c3c"/>
<circle cx="579.4" cy="117.0" r="0.65" fill="#3c3c3c"/>
<circle cx="611.7" cy="119.0" r="0.65" fill="#3c3c3c"/>
<circle cx="673.8" cy="121.8" r="0.65" fill="#3c3c3c"/>
<polyline points="548.2,119.6 579.4,130.5 611.7,127.0 673.8,121.5" fill="none" stroke="#3c3c3c" stroke-width="0.7" stroke-opacity="1" stroke-linejoin="round"/>
<circle cx="548.2" cy="119.6" r="0.65" fill="#3c3c3c"/>
<circle cx="579.4" cy="130.5" r="0.65" fill="#3c3c3c"/>
<circle cx="611.7" cy="127.0" r="0.65" fill="#3c3c3c"/>
<circle cx="673.8" cy="121.5" r="0.65" fill="#3c3c3c"/>
<polyline points="548.2,118.7 579.4,117.2 611.7,131.0 673.8,129.9" fill="none" stroke="#3c3c3c" stroke-width="0.7" stroke-opacity="1" stroke-linejoin="round"/>
<circle cx="548.2" cy="118.7" r="0.65" fill="#3c3c3c"/>
<circle cx="579.4" cy="117.2" r="0.65" fill="#3c3c3c"/>
<circle cx="611.7" cy="131.0" r="0.65" fill="#3c3c3c"/>
<circle cx="673.8" cy="129.9" r="0.65" fill="#3c3c3c"/>
<polyline points="548.2,123.5 579.4,138.7 611.7,139.5 673.8,136.9" fill="none" stroke="#3c3c3c" stroke-width="0.7" stroke-opacity="1" stroke-linejoin="round"/>
<circle cx="548.2" cy="123.5" r="0.65" fill="#3c3c3c"/>
<circle cx="579.4" cy="138.7" r="0.65" fill="#3c3c3c"/>
<circle cx="611.7" cy="139.5" r="0.65" fill="#3c3c3c"/>
<circle cx="673.8" cy="136.9" r="0.65" fill="#3c3c3c"/>
<polyline points="548.2,118.6 579.4,136.9 611.7,144.0 673.8,137.2" fill="none" stroke="#3c3c3c" stroke-width="0.7" stroke-opacity="1" stroke-linejoin="round"/>
<circle cx="548.2" cy="118.6" r="0.65" fill="#3c3c3c"/>
<circle cx="579.4" cy="136.9" r="0.65" fill="#3c3c3c"/>
<circle cx="611.7" cy="144.0" r="0.65" fill="#3c3c3c"/>
<circle cx="673.8" cy="137.2" r="0.65" fill="#3c3c3c"/>
<polyline points="548.2,30.6 579.4,100.5 611.7,105.6 673.8,104.2" fill="none" stroke="#474747" stroke-width="0.75" stroke-opacity="1" stroke-linejoin="round"/>
<circle cx="548.2" cy="30.6" r="0.65" fill="#474747"/>
<circle cx="579.4" cy="100.5" r="0.65" fill="#474747"/>
<circle cx="611.7" cy="105.6" r="0.65" fill="#474747"/>
<circle cx="673.8" cy="104.2" r="0.65" fill="#474747"/>
<polyline points="548.2,44.2 579.4,59.7 611.7,75.8" fill="none" stroke="#474747" stroke-width="0.75" stroke-opacity="1" stroke-linejoin="round"/>
<circle cx="548.2" cy="44.2" r="0.65" fill="#474747"/>
<circle cx="579.4" cy="59.7" r="0.65" fill="#474747"/>
<circle cx="611.7" cy="75.8" r="0.65" fill="#474747"/>
<polyline points="548.2,46.6 579.4,90.0 611.7,99.4 673.8,101.5" fill="none" stroke="#474747" stroke-width="0.75" stroke-opacity="1" stroke-linejoin="round"/>
<circle cx="548.2" cy="46.6" r="0.65" fill="#474747"/>
<circle cx="579.4" cy="90.0" r="0.65" fill="#474747"/>
<circle cx="611.7" cy="99.4" r="0.65" fill="#474747"/>
<circle cx="673.8" cy="101.5" r="0.65" fill="#474747"/>
<polyline points="548.2,48.7 579.4,94.7 611.7,93.2 673.8,93.2" fill="none" stroke="#474747" stroke-width="0.75" stroke-opacity="1" stroke-linejoin="round"/>
<circle cx="548.2" cy="48.7" r="0.65" fill="#474747"/>
<circle cx="579.4" cy="94.7" r="0.65" fill="#474747"/>
<circle cx="611.7" cy="93.2" r="0.65" fill="#474747"/>
<circle cx="673.8" cy="93.2" r="0.65" fill="#474747"/>
<polyline points="548.2,63.8 579.4,69.4 611.7,82.8 673.8,93.2" fill="none" stroke="#474747" stroke-width="0.75" stroke-opacity="1" stroke-linejoin="round"/>
<circle cx="548.2" cy="63.8" r="0.65" fill="#474747"/>
<circle cx="579.4" cy="69.4" r="0.65" fill="#474747"/>
<circle cx="611.7" cy="82.8" r="0.65" fill="#474747"/>
<circle cx="673.8" cy="93.2" r="0.65" fill="#474747"/>
<polyline points="548.2,72.8 579.4,80.4 611.7,83.4 673.8,81.7" fill="none" stroke="#474747" stroke-width="0.75" stroke-opacity="1" stroke-linejoin="round"/>
<circle cx="548.2" cy="72.8" r="0.65" fill="#474747"/>
<circle cx="579.4" cy="80.4" r="0.65" fill="#474747"/>
<circle cx="611.7" cy="83.4" r="0.65" fill="#474747"/>
<circle cx="673.8" cy="81.7" r="0.65" fill="#474747"/>
<polyline points="548.2,78.9 579.4,81.1 611.7,90.2 673.8,100.5" fill="none" stroke="#474747" stroke-width="0.75" stroke-opacity="1" stroke-linejoin="round"/>
<circle cx="548.2" cy="78.9" r="0.65" fill="#474747"/>
<circle cx="579.4" cy="81.1" r="0.65" fill="#474747"/>
<circle cx="611.7" cy="90.2" r="0.65" fill="#474747"/>
<circle cx="673.8" cy="100.5" r="0.65" fill="#474747"/>
<polyline points="548.2,80.4 579.4,86.7 611.7,89.0 673.8,93.2" fill="none" stroke="#474747" stroke-width="0.75" stroke-opacity="1" stroke-linejoin="round"/>
<circle cx="548.2" cy="80.4" r="0.65" fill="#474747"/>
<circle cx="579.4" cy="86.7" r="0.65" fill="#474747"/>
<circle cx="611.7" cy="89.0" r="0.65" fill="#474747"/>
<circle cx="673.8" cy="93.2" r="0.65" fill="#474747"/>
<polyline points="548.2,86.4 579.4,90.2 611.7,99.4 673.8,104.6" fill="none" stroke="#474747" stroke-width="0.75" stroke-opacity="1" stroke-linejoin="round"/>
<circle cx="548.2" cy="86.4" r="0.65" fill="#474747"/>
<circle cx="579.4" cy="90.2" r="0.65" fill="#474747"/>
<circle cx="611.7" cy="99.4" r="0.65" fill="#474747"/>
<circle cx="673.8" cy="104.6" r="0.65" fill="#474747"/>
<polyline points="548.2,95.5 579.4,105.0 611.7,110.9 673.8,115.0" fill="none" stroke="#474747" stroke-width="0.75" stroke-opacity="1" stroke-linejoin="round"/>
<circle cx="548.2" cy="95.5" r="0.65" fill="#474747"/>
<circle cx="579.4" cy="105.0" r="0.65" fill="#474747"/>
<circle cx="611.7" cy="110.9" r="0.65" fill="#474747"/>
<circle cx="673.8" cy="115.0" r="0.65" fill="#474747"/>
<polyline points="548.2,92.7 579.4,110.0 611.7,115.0 673.8,114.8" fill="none" stroke="#474747" stroke-width="0.75" stroke-opacity="1" stroke-linejoin="round"/>
<circle cx="548.2" cy="92.7" r="0.65" fill="#474747"/>
<circle cx="579.4" cy="110.0" r="0.65" fill="#474747"/>
<circle cx="611.7" cy="115.0" r="0.65" fill="#474747"/>
<circle cx="673.8" cy="114.8" r="0.65" fill="#474747"/>
<polyline points="548.2,119.0 579.4,139.9 611.7,157.0 673.8,105.6" fill="none" stroke="#474747" stroke-width="0.8" stroke-opacity="1" stroke-linejoin="round"/>
<circle cx="548.2" cy="119.0" r="0.65" fill="#474747"/>
<circle cx="579.4" cy="139.9" r="0.65" fill="#474747"/>
<circle cx="611.7" cy="157.0" r="0.65" fill="#474747"/>
<circle cx="673.8" cy="105.6" r="0.65" fill="#474747"/>
<line x1="49.4" y1="155.50" x2="174.4" y2="155.50" stroke="#4a4a4a" stroke-width="0.7" stroke-dasharray="2.2,1.3,0.6,1.3"/>
<line x1="212.4" y1="155.50" x2="334.6" y2="155.50" stroke="#4a4a4a" stroke-width="0.7" stroke-dasharray="2.2,1.3,0.6,1.3"/>
<line x1="386.8" y1="148.60" x2="512.4" y2="148.60" stroke="#4a4a4a" stroke-width="0.7" stroke-dasharray="2.2,1.3,0.6,1.3"/>
<line x1="548.2" y1="148.60" x2="673.8" y2="148.60" stroke="#4a4a4a" stroke-width="0.7" stroke-dasharray="2.2,1.3,0.6,1.3"/>
<line x1="49.4" y1="21.1" x2="49.4" y2="179.4" stroke="#939393" stroke-width="1"/>
<line x1="49.4" y1="179.4" x2="175.5" y2="179.4" stroke="#939393" stroke-width="1"/>
<line x1="49.4" y1="179.4" x2="49.4" y2="181.4" stroke="#555" stroke-width="0.8"/>
<line x1="80.3" y1="179.4" x2="80.3" y2="181.4" stroke="#555" stroke-width="0.8"/>
<line x1="111.3" y1="179.4" x2="111.3" y2="181.4" stroke="#555" stroke-width="0.8"/>
<line x1="142.3" y1="179.4" x2="142.3" y2="181.4" stroke="#555" stroke-width="0.8"/>
<line x1="174.4" y1="179.4" x2="174.4" y2="181.4" stroke="#555" stroke-width="0.8"/>
<text x="49.40" y="191.80" font-size="8.4" text-anchor="middle" font-weight="normal" fill="#222" >pre</text>
<text x="80.30" y="191.80" font-size="8.4" text-anchor="middle" font-weight="normal" fill="#222" >3</text>
<text x="111.30" y="191.80" font-size="8.4" text-anchor="middle" font-weight="normal" fill="#222" >6</text>
<text x="142.30" y="191.80" font-size="8.4" text-anchor="middle" font-weight="normal" fill="#222" >9</text>
<text x="174.40" y="191.80" font-size="8.4" text-anchor="middle" font-weight="normal" fill="#222" >12</text>
<text x="111.90" y="206.00" font-size="8.4" text-anchor="middle" font-weight="normal" fill="#222" >Month of follow-up</text>
<line x1="212.4" y1="20.6" x2="212.4" y2="179.4" stroke="#939393" stroke-width="1"/>
<line x1="212.4" y1="179.4" x2="337.9" y2="179.4" stroke="#939393" stroke-width="1"/>
<line x1="212.4" y1="179.4" x2="212.4" y2="181.4" stroke="#555" stroke-width="0.8"/>
<line x1="243.3" y1="179.4" x2="243.3" y2="181.4" stroke="#555" stroke-width="0.8"/>
<line x1="274.3" y1="179.4" x2="274.3" y2="181.4" stroke="#555" stroke-width="0.8"/>
<line x1="304.5" y1="179.4" x2="304.5" y2="181.4" stroke="#555" stroke-width="0.8"/>
<line x1="334.6" y1="179.4" x2="334.6" y2="181.4" stroke="#555" stroke-width="0.8"/>
<text x="212.40" y="191.80" font-size="8.4" text-anchor="middle" font-weight="normal" fill="#222" >pre</text>
<text x="243.30" y="191.80" font-size="8.4" text-anchor="middle" font-weight="normal" fill="#222" >3</text>
<text x="274.30" y="191.80" font-size="8.4" text-anchor="middle" font-weight="normal" fill="#222" >6</text>
<text x="304.50" y="191.80" font-size="8.4" text-anchor="middle" font-weight="normal" fill="#222" >9</text>
<text x="334.60" y="191.80" font-size="8.4" text-anchor="middle" font-weight="normal" fill="#222" >12</text>
<text x="273.50" y="206.00" font-size="8.4" text-anchor="middle" font-weight="normal" fill="#222" >Month of follow-up</text>
<line x1="386.8" y1="21.9" x2="386.8" y2="179.4" stroke="#939393" stroke-width="1"/>
<line x1="386.8" y1="179.4" x2="516.7" y2="179.4" stroke="#939393" stroke-width="1"/>
<line x1="386.8" y1="179.4" x2="386.8" y2="181.4" stroke="#555" stroke-width="0.8"/>
<line x1="418.1" y1="179.4" x2="418.1" y2="181.4" stroke="#555" stroke-width="0.8"/>
<line x1="450.4" y1="179.4" x2="450.4" y2="181.4" stroke="#555" stroke-width="0.8"/>
<line x1="481.5" y1="179.4" x2="481.5" y2="181.4" stroke="#555" stroke-width="0.8"/>
<line x1="512.4" y1="179.4" x2="512.4" y2="181.4" stroke="#555" stroke-width="0.8"/>
<text x="386.80" y="191.80" font-size="8.4" text-anchor="middle" font-weight="normal" fill="#222" >pre</text>
<text x="418.10" y="191.80" font-size="8.4" text-anchor="middle" font-weight="normal" fill="#222" >3</text>
<text x="450.40" y="191.80" font-size="8.4" text-anchor="middle" font-weight="normal" fill="#222" >6</text>
<text x="481.50" y="191.80" font-size="8.4" text-anchor="middle" font-weight="normal" fill="#222" >9</text>
<text x="512.40" y="191.80" font-size="8.4" text-anchor="middle" font-weight="normal" fill="#222" >12</text>
<text x="449.60" y="206.00" font-size="8.4" text-anchor="middle" font-weight="normal" fill="#222" >Month of follow-up</text>
<line x1="548.2" y1="21.1" x2="548.2" y2="179.4" stroke="#939393" stroke-width="1"/>
<line x1="548.2" y1="179.4" x2="677.8" y2="179.4" stroke="#939393" stroke-width="1"/>
<line x1="548.2" y1="179.4" x2="548.2" y2="181.4" stroke="#555" stroke-width="0.8"/>
<line x1="579.4" y1="179.4" x2="579.4" y2="181.4" stroke="#555" stroke-width="0.8"/>
<line x1="611.7" y1="179.4" x2="611.7" y2="181.4" stroke="#555" stroke-width="0.8"/>
<line x1="643.6" y1="179.4" x2="643.6" y2="181.4" stroke="#555" stroke-width="0.8"/>
<line x1="673.8" y1="179.4" x2="673.8" y2="181.4" stroke="#555" stroke-width="0.8"/>
<text x="548.20" y="191.80" font-size="8.4" text-anchor="middle" font-weight="normal" fill="#222" >pre</text>
<text x="579.40" y="191.80" font-size="8.4" text-anchor="middle" font-weight="normal" fill="#222" >3</text>
<text x="611.70" y="191.80" font-size="8.4" text-anchor="middle" font-weight="normal" fill="#222" >6</text>
<text x="643.60" y="191.80" font-size="8.4" text-anchor="middle" font-weight="normal" fill="#222" >9</text>
<text x="673.80" y="191.80" font-size="8.4" text-anchor="middle" font-weight="normal" fill="#222" >12</text>
<text x="611.00" y="206.00" font-size="8.4" text-anchor="middle" font-weight="normal" fill="#222" >Month of follow-up</text>
<text x="44.20" y="37.10" font-size="8.4" text-anchor="end" font-weight="normal" fill="#222" >3</text>
<text x="44.20" y="85.50" font-size="8.4" text-anchor="end" font-weight="normal" fill="#222" >2</text>
<text x="44.20" y="133.90" font-size="8.4" text-anchor="end" font-weight="normal" fill="#222" >1</text>
<text x="44.20" y="158.10" font-size="8.4" text-anchor="end" font-weight="normal" fill="#222" >0.5</text>
<text x="44.20" y="182.30" font-size="8.4" text-anchor="end" font-weight="normal" fill="#222" >0</text>
<text x="382.2" y="39.20" font-size="8.4" text-anchor="end" fill="#222">10<tspan dy="-3.8" font-size="6.2">4</tspan></text>
<text x="382.2" y="68.00" font-size="8.4" text-anchor="end" fill="#222">10<tspan dy="-3.8" font-size="6.2">3</tspan></text>
<text x="382.2" y="96.80" font-size="8.4" text-anchor="end" fill="#222">10<tspan dy="-3.8" font-size="6.2">2</tspan></text>
<text x="382.20" y="122.80" font-size="8.4" text-anchor="end" font-weight="normal" fill="#222" >10</text>
<text x="382.20" y="151.60" font-size="8.4" text-anchor="end" font-weight="normal" fill="#222" >1</text>
<text x="382.20" y="182.20" font-size="8.4" text-anchor="end" font-weight="normal" fill="#222" >0</text>
<text x="0" y="0" font-size="8.6" text-anchor="middle" fill="#222" transform="translate(24.9,100.2) rotate(-90)">NY-ESO-1 antibody (O.D. value)</text>
<text x="0" y="0" font-size="8.4" text-anchor="middle" fill="#222" transform="translate(361.6,98.0) rotate(-90)">p53 antibody (U/ml)</text>
<text x="33.00" y="12.30" font-size="14.5" text-anchor="start" font-weight="bold" fill="#111" >a</text>
<text x="207.30" y="12.30" font-size="14.5" text-anchor="start" font-weight="bold" fill="#111" >b</text>
<text x="369.30" y="12.30" font-size="14.5" text-anchor="start" font-weight="bold" fill="#111" >c</text>
<text x="541.90" y="12.30" font-size="14.5" text-anchor="start" font-weight="bold" fill="#111" >d</text>
<text x="114.70" y="14.80" font-size="8.4" text-anchor="middle" font-weight="normal" fill="#222" >With recurrence</text>
<text x="278.20" y="14.80" font-size="8.4" text-anchor="middle" font-weight="normal" fill="#222" >Without recurrence</text>
<text x="449.50" y="14.80" font-size="8.4" text-anchor="middle" font-weight="normal" fill="#222" >With recurrence</text>
<text x="617.60" y="14.80" font-size="8.4" text-anchor="middle" font-weight="normal" fill="#222" >Without recurrence</text>
<path d="M572.6,31.8 L575.8,31.8 L574.2,37.6 Z" fill="#fff" stroke="#333" stroke-width="0.6"/>
<path d="M571.2,45.3 L577.2,43.6 L577.2,47.0 Z" fill="#111"/>
<text x="580.90" y="37.80" font-size="8.5" text-anchor="start" font-weight="normal" fill="#222" >Recurrence within 1 year</text>
<text x="580.90" y="48.90" font-size="8.5" text-anchor="start" font-weight="normal" fill="#222" >Recurrence after 1 year</text>
<text x="0.00" y="226.20" font-size="8.4" text-anchor="start" font-weight="normal" fill="#222" >Antibody</text>
<text x="15.20" y="237.20" font-size="8.4" text-anchor="middle" font-weight="normal" fill="#222" >( + )</text>
<text x="14.70" y="256.30" font-size="8.4" text-anchor="middle" font-weight="normal" fill="#222" >( - )</text>
<text x="49.40" y="226.20" font-size="8.4" text-anchor="middle" font-weight="normal" fill="#222" >29</text>
<text x="49.40" y="237.20" font-size="8.4" text-anchor="middle" font-weight="normal" fill="#222" >(100%)</text>
<text x="49.40" y="250.50" font-size="8.4" text-anchor="middle" font-weight="normal" fill="#222" >0</text>
<text x="49.40" y="261.60" font-size="8.4" text-anchor="middle" font-weight="normal" fill="#222" >(0%)</text>
<text x="80.30" y="226.20" font-size="8.4" text-anchor="middle" font-weight="normal" fill="#222" >20</text>
<text x="80.30" y="237.20" font-size="8.4" text-anchor="middle" font-weight="normal" fill="#222" >(91%)</text>
<text x="80.30" y="250.50" font-size="8.4" text-anchor="middle" font-weight="normal" fill="#222" >2</text>
<text x="80.30" y="261.60" font-size="8.4" text-anchor="middle" font-weight="normal" fill="#222" >(9%)</text>
<text x="111.30" y="226.20" font-size="8.4" text-anchor="middle" font-weight="normal" fill="#222" >18</text>
<text x="111.30" y="237.20" font-size="8.4" text-anchor="middle" font-weight="normal" fill="#222" >(78%)</text>
<text x="111.30" y="250.50" font-size="8.4" text-anchor="middle" font-weight="normal" fill="#222" >5</text>
<text x="111.30" y="261.60" font-size="8.4" text-anchor="middle" font-weight="normal" fill="#222" >(22%)</text>
<text x="142.30" y="226.20" font-size="8.4" text-anchor="middle" font-weight="normal" fill="#222" >18</text>
<text x="142.30" y="237.20" font-size="8.4" text-anchor="middle" font-weight="normal" fill="#222" >(82%)</text>
<text x="142.30" y="250.50" font-size="8.4" text-anchor="middle" font-weight="normal" fill="#222" >4</text>
<text x="142.30" y="261.60" font-size="8.4" text-anchor="middle" font-weight="normal" fill="#222" >(18%)</text>
<text x="174.40" y="226.20" font-size="8.4" text-anchor="middle" font-weight="normal" fill="#222" >22</text>
<text x="174.40" y="237.20" font-size="8.4" text-anchor="middle" font-weight="normal" fill="#222" >(92%)</text>
<text x="174.40" y="250.50" font-size="8.4" text-anchor="middle" font-weight="normal" fill="#222" >2</text>
<text x="174.40" y="261.60" font-size="8.4" text-anchor="middle" font-weight="normal" fill="#222" >(8%)</text>
<text x="212.40" y="226.20" font-size="8.4" text-anchor="middle" font-weight="normal" fill="#222" >56</text>
<text x="212.40" y="237.20" font-size="8.4" text-anchor="middle" font-weight="normal" fill="#222" >(100%)</text>
<text x="212.40" y="250.50" font-size="8.4" text-anchor="middle" font-weight="normal" fill="#222" >0</text>
<text x="212.40" y="261.60" font-size="8.4" text-anchor="middle" font-weight="normal" fill="#222" >(0%)</text>
<text x="243.30" y="226.20" font-size="8.4" text-anchor="middle" font-weight="normal" fill="#222" >21</text>
<text x="243.30" y="237.20" font-size="8.4" text-anchor="middle" font-weight="normal" fill="#222" >(55%)</text>
<text x="243.30" y="250.50" font-size="8.4" text-anchor="middle" font-weight="normal" fill="#222" >17</text>
<text x="243.30" y="261.60" font-size="8.4" text-anchor="middle" font-weight="normal" fill="#222" >(45%)</text>
<text x="274.30" y="226.20" font-size="8.4" text-anchor="middle" font-weight="normal" fill="#222" >17</text>
<text x="274.30" y="237.20" font-size="8.4" text-anchor="middle" font-weight="normal" fill="#222" >(42%)</text>
<text x="274.30" y="250.50" font-size="8.4" text-anchor="middle" font-weight="normal" fill="#222" >24</text>
<text x="274.30" y="261.60" font-size="8.4" text-anchor="middle" font-weight="normal" fill="#222" >(59%)</text>
<text x="304.50" y="226.20" font-size="8.4" text-anchor="middle" font-weight="normal" fill="#222" >11</text>
<text x="304.50" y="237.20" font-size="8.4" text-anchor="middle" font-weight="normal" fill="#222" >(29%)</text>
<text x="304.50" y="250.50" font-size="8.4" text-anchor="middle" font-weight="normal" fill="#222" >27</text>
<text x="304.50" y="261.60" font-size="8.4" text-anchor="middle" font-weight="normal" fill="#222" >(71%)</text>
<text x="334.60" y="226.20" font-size="8.4" text-anchor="middle" font-weight="normal" fill="#222" >10</text>
<text x="334.60" y="237.20" font-size="8.4" text-anchor="middle" font-weight="normal" fill="#222" >(22%)</text>
<text x="334.60" y="250.50" font-size="8.4" text-anchor="middle" font-weight="normal" fill="#222" >35</text>
<text x="334.60" y="261.60" font-size="8.4" text-anchor="middle" font-weight="normal" fill="#222" >(78%)</text>
<text x="386.80" y="226.20" font-size="8.4" text-anchor="middle" font-weight="normal" fill="#222" >42</text>
<text x="386.80" y="237.20" font-size="8.4" text-anchor="middle" font-weight="normal" fill="#222" >(100%)</text>
<text x="386.80" y="250.50" font-size="8.4" text-anchor="middle" font-weight="normal" fill="#222" >0</text>
<text x="386.80" y="261.60" font-size="8.4" text-anchor="middle" font-weight="normal" fill="#222" >(0%)</text>
<text x="418.10" y="226.20" font-size="8.4" text-anchor="middle" font-weight="normal" fill="#222" >27</text>
<text x="418.10" y="237.20" font-size="8.4" text-anchor="middle" font-weight="normal" fill="#222" >(82%)</text>
<text x="418.10" y="250.50" font-size="8.4" text-anchor="middle" font-weight="normal" fill="#222" >6</text>
<text x="418.10" y="261.60" font-size="8.4" text-anchor="middle" font-weight="normal" fill="#222" >(18%)</text>
<text x="450.40" y="226.20" font-size="8.4" text-anchor="middle" font-weight="normal" fill="#222" >23</text>
<text x="450.40" y="237.20" font-size="8.4" text-anchor="middle" font-weight="normal" fill="#222" >(85%)</text>
<text x="450.40" y="250.50" font-size="8.4" text-anchor="middle" font-weight="normal" fill="#222" >4</text>
<text x="450.40" y="261.60" font-size="8.4" text-anchor="middle" font-weight="normal" fill="#222" >(15%)</text>
<text x="481.50" y="226.20" font-size="8.4" text-anchor="middle" font-weight="normal" fill="#777" >–</text>
<text x="481.50" y="250.50" font-size="8.4" text-anchor="middle" font-weight="normal" fill="#777" >–</text>
<text x="512.40" y="226.20" font-size="8.4" text-anchor="middle" font-weight="normal" fill="#222" >22</text>
<text x="512.40" y="237.20" font-size="8.4" text-anchor="middle" font-weight="normal" fill="#222" >(92%)</text>
<text x="512.40" y="250.50" font-size="8.4" text-anchor="middle" font-weight="normal" fill="#222" >2</text>
<text x="512.40" y="261.60" font-size="8.4" text-anchor="middle" font-weight="normal" fill="#222" >(8%)</text>
<text x="548.20" y="226.20" font-size="8.4" text-anchor="middle" font-weight="normal" fill="#222" >71</text>
<text x="548.20" y="237.20" font-size="8.4" text-anchor="middle" font-weight="normal" fill="#222" >(100%)</text>
<text x="548.20" y="250.50" font-size="8.4" text-anchor="middle" font-weight="normal" fill="#222" >0</text>
<text x="548.20" y="261.60" font-size="8.4" text-anchor="middle" font-weight="normal" fill="#222" >(0%)</text>
<text x="579.40" y="226.20" font-size="8.4" text-anchor="middle" font-weight="normal" fill="#222" >41</text>
<text x="579.40" y="237.20" font-size="8.4" text-anchor="middle" font-weight="normal" fill="#222" >(91%)</text>
<text x="579.40" y="250.50" font-size="8.4" text-anchor="middle" font-weight="normal" fill="#222" >4</text>
<text x="579.40" y="261.60" font-size="8.4" text-anchor="middle" font-weight="normal" fill="#222" >(8.9%)</text>
<text x="611.70" y="226.20" font-size="8.4" text-anchor="middle" font-weight="normal" fill="#222" >43</text>
<text x="611.70" y="237.20" font-size="8.4" text-anchor="middle" font-weight="normal" fill="#222" >(80%)</text>
<text x="611.70" y="250.50" font-size="8.4" text-anchor="middle" font-weight="normal" fill="#222" >11</text>
<text x="611.70" y="261.60" font-size="8.4" text-anchor="middle" font-weight="normal" fill="#222" >(20%)</text>
<text x="643.60" y="226.20" font-size="8.4" text-anchor="middle" font-weight="normal" fill="#777" >-</text>
<text x="643.60" y="250.50" font-size="8.4" text-anchor="middle" font-weight="normal" fill="#777" >-</text>
<text x="673.80" y="226.20" font-size="8.4" text-anchor="middle" font-weight="normal" fill="#222" >37</text>
<text x="673.80" y="237.20" font-size="8.4" text-anchor="middle" font-weight="normal" fill="#222" >(71%)</text>
<text x="673.80" y="250.50" font-size="8.4" text-anchor="middle" font-weight="normal" fill="#222" >15</text>
<text x="673.80" y="261.60" font-size="8.4" text-anchor="middle" font-weight="normal" fill="#222" >(29%)</text>
</svg></body></html>
